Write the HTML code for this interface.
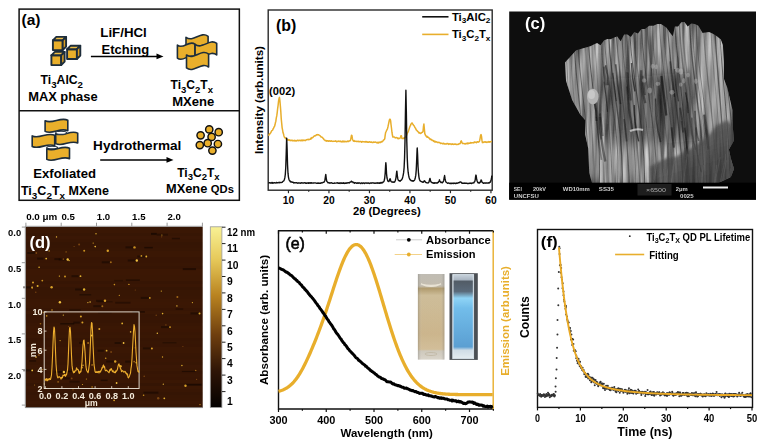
<!DOCTYPE html>
<html><head><meta charset="utf-8"><style>
html,body{margin:0;padding:0;background:#fff;}
svg{display:block;font-family:"Liberation Sans", sans-serif;}
</style></head><body>
<svg width="765" height="445" viewBox="0 0 765 445">
<rect x="19.1" y="9.1" width="220.25" height="191.2" fill="none" stroke="#111" stroke-width="1.5"/>
<line x1="19.1" y1="110.8" x2="239.35" y2="110.8" stroke="#111" stroke-width="1.5"/>
<text x="21.5" y="25.3" font-size="15.5" font-weight="bold" fill="#000" text-anchor="start" textLength="19" lengthAdjust="spacingAndGlyphs" >(a)</text>
<path d="M52.9,40.3 h9.8 v9.8 h-9.8 z" fill="#E9AF2B" stroke="#1d2d3b" stroke-width="1.9" stroke-linejoin="round"/><path d="M52.9,40.3 L56.3,36.9 h9.8 L62.7,40.3 z" fill="#EDBD45" stroke="#1d2d3b" stroke-width="1.9" stroke-linejoin="round"/><path d="M62.7,40.3 L66.10000000000001,36.9 v9.8 L62.7,50.099999999999994 z" fill="#D99D22" stroke="#1d2d3b" stroke-width="1.9" stroke-linejoin="round"/>
<path d="M67.1,49.199999999999996 h9.8 v9.8 h-9.8 z" fill="#E9AF2B" stroke="#1d2d3b" stroke-width="1.9" stroke-linejoin="round"/><path d="M67.1,49.199999999999996 L70.5,45.8 h9.8 L76.89999999999999,49.199999999999996 z" fill="#EDBD45" stroke="#1d2d3b" stroke-width="1.9" stroke-linejoin="round"/><path d="M76.89999999999999,49.199999999999996 L80.3,45.8 v9.8 L76.89999999999999,59.0 z" fill="#D99D22" stroke="#1d2d3b" stroke-width="1.9" stroke-linejoin="round"/>
<path d="M51.4,55.3 h9.8 v9.8 h-9.8 z" fill="#E9AF2B" stroke="#1d2d3b" stroke-width="1.9" stroke-linejoin="round"/><path d="M51.4,55.3 L54.8,51.9 h9.8 L61.2,55.3 z" fill="#EDBD45" stroke="#1d2d3b" stroke-width="1.9" stroke-linejoin="round"/><path d="M61.2,55.3 L64.60000000000001,51.9 v9.8 L61.2,65.1 z" fill="#D99D22" stroke="#1d2d3b" stroke-width="1.9" stroke-linejoin="round"/>
<path d="M186.00,37.27 C193.29,42.97 200.81,30.62 208.10,36.32 L208.10,46.73 C200.81,41.03 193.29,53.38 186.00,47.68 Z" fill="#E9AF2B" stroke="#1d2d3b" stroke-width="1.6" stroke-linejoin="round"/>
<path d="M177.40,45.11 C183.21,50.21 189.19,39.16 195.00,44.26 L195.00,57.20 C189.19,52.10 183.21,63.15 177.40,58.05 Z" fill="#E9AF2B" stroke="#1d2d3b" stroke-width="1.6" stroke-linejoin="round"/>
<path d="M195.10,44.37 C202.23,50.07 209.57,37.72 216.70,43.42 L216.70,54.94 C209.57,49.23 202.23,61.59 195.10,55.88 Z" fill="#E9AF2B" stroke="#1d2d3b" stroke-width="1.6" stroke-linejoin="round"/>
<path d="M186.50,54.97 C193.79,60.67 201.31,48.32 208.60,54.02 L208.60,67.04 C201.31,61.34 193.79,73.69 186.50,67.99 Z" fill="#E9AF2B" stroke="#1d2d3b" stroke-width="1.6" stroke-linejoin="round"/>
<line x1="90.9" y1="56.4" x2="158" y2="56.4" stroke="#000" stroke-width="1.5"/>
<path d="M156.5,53.6 L163.5,56.4 L156.5,59.3 Z" fill="#000"/>
<text x="100.3" y="36.8" font-size="12.2" font-weight="bold" fill="#000" text-anchor="start" textLength="46.5" lengthAdjust="spacingAndGlyphs" >LiF/HCl</text>
<text x="101.5" y="53.8" font-size="12.2" font-weight="bold" fill="#000" text-anchor="start" textLength="47.6" lengthAdjust="spacingAndGlyphs" >Etching</text>
<text x="40.6" y="84.4" font-size="12" font-weight="bold" fill="#000" text-anchor="start" textLength="42.4" lengthAdjust="spacingAndGlyphs" >Ti<tspan font-size="9.5" dy="3.6">3</tspan><tspan dy="-3.6">AlC</tspan><tspan font-size="9.5" dy="3.6">2</tspan></text>
<text x="28.2" y="100.9" font-size="12" font-weight="bold" fill="#000" text-anchor="start" textLength="69.4" lengthAdjust="spacingAndGlyphs" >MAX phase</text>
<text x="170.5" y="89" font-size="12" font-weight="bold" fill="#000" text-anchor="start" textLength="42.5" lengthAdjust="spacingAndGlyphs" >Ti<tspan font-size="9.5" dy="3.6">3</tspan><tspan dy="-3.6">C</tspan><tspan font-size="9.5" dy="3.6">2</tspan><tspan dy="-3.6">T</tspan><tspan font-size="9.5" dy="3.6">x</tspan></text>
<text x="172.2" y="106" font-size="12" font-weight="bold" fill="#000" text-anchor="start" textLength="42.1" lengthAdjust="spacingAndGlyphs" >MXene</text>
<path d="M45.10,120.81 C52.59,124.53 60.31,116.47 67.80,120.19 L67.80,130.73 C60.31,127.01 52.59,135.07 45.10,131.35 Z" fill="#E9AF2B" stroke="#1d2d3b" stroke-width="1.6" stroke-linejoin="round"/>
<path d="M55.70,133.71 C62.96,137.43 70.44,129.37 77.70,133.09 L77.70,143.03 C70.44,139.31 62.96,147.37 55.70,143.65 Z" fill="#E9AF2B" stroke="#1d2d3b" stroke-width="1.6" stroke-linejoin="round"/>
<path d="M32.20,135.91 C39.62,139.63 47.28,131.57 54.70,135.29 L54.70,145.83 C47.28,142.11 39.62,150.17 32.20,146.45 Z" fill="#E9AF2B" stroke="#1d2d3b" stroke-width="1.6" stroke-linejoin="round"/>
<path d="M46.80,148.81 C54.29,152.53 62.01,144.47 69.50,148.19 L69.50,158.73 C62.01,155.01 54.29,163.07 46.80,159.35 Z" fill="#E9AF2B" stroke="#1d2d3b" stroke-width="1.6" stroke-linejoin="round"/>
<ellipse cx="61.1" cy="132.8" rx="5.4" ry="1.5" fill="#fff" stroke="#1d2d3b" stroke-width="1.1"/>
<ellipse cx="52.1" cy="147.6" rx="5.4" ry="1.3" fill="#fff" stroke="#1d2d3b" stroke-width="1.1"/>
<text x="33.3" y="177.6" font-size="12" font-weight="bold" fill="#000" text-anchor="start" textLength="62.7" lengthAdjust="spacingAndGlyphs" >Exfoliated</text>
<text x="20.9" y="195.3" font-size="12" font-weight="bold" fill="#000" text-anchor="start" textLength="88.1" lengthAdjust="spacingAndGlyphs" >Ti<tspan font-size="9.5" dy="3.6">3</tspan><tspan dy="-3.6">C</tspan><tspan font-size="9.5" dy="3.6">2</tspan><tspan dy="-3.6">T</tspan><tspan font-size="9.5" dy="3.6">x</tspan><tspan dy="-3.6"> MXene</tspan></text>
<line x1="100.2" y1="159.9" x2="168" y2="159.9" stroke="#000" stroke-width="1.5"/>
<path d="M166.5,157.1 L173.5,159.9 L166.5,162.7 Z" fill="#000"/>
<text x="93.1" y="150.3" font-size="12" font-weight="bold" fill="#000" text-anchor="start" textLength="88.2" lengthAdjust="spacingAndGlyphs" >Hydrothermal</text>
<text x="177.2" y="176.7" font-size="12" font-weight="bold" fill="#000" text-anchor="start" textLength="42.5" lengthAdjust="spacingAndGlyphs" >Ti<tspan font-size="9.5" dy="3.6">3</tspan><tspan dy="-3.6">C</tspan><tspan font-size="9.5" dy="3.6">2</tspan><tspan dy="-3.6">T</tspan><tspan font-size="9.5" dy="3.6">x</tspan></text>
<text x="166" y="192.9" font-size="12" font-weight="bold" fill="#000" text-anchor="start" textLength="67.9" lengthAdjust="spacingAndGlyphs" >MXene <tspan font-size="10.5">QDs</tspan></text>
<circle cx="209.25" cy="129.4" r="3.65" fill="#E9AF2B" stroke="#111" stroke-width="1.45"/>
<circle cx="218.7" cy="132.2" r="3.65" fill="#E9AF2B" stroke="#111" stroke-width="1.45"/>
<circle cx="200.6" cy="135.3" r="3.65" fill="#E9AF2B" stroke="#111" stroke-width="1.45"/>
<circle cx="211.6" cy="136.9" r="3.65" fill="#E9AF2B" stroke="#111" stroke-width="1.45"/>
<circle cx="207.7" cy="143.2" r="3.65" fill="#E9AF2B" stroke="#111" stroke-width="1.45"/>
<circle cx="199.8" cy="145.1" r="3.65" fill="#E9AF2B" stroke="#111" stroke-width="1.45"/>
<circle cx="217.9" cy="144" r="3.65" fill="#E9AF2B" stroke="#111" stroke-width="1.45"/>
<circle cx="212.4" cy="150.6" r="3.65" fill="#E9AF2B" stroke="#111" stroke-width="1.45"/>
<rect x="268.2" y="10" width="224" height="180.2" fill="none" stroke="#2a2a2a" stroke-width="1.4"/>
<line x1="288.45" y1="190" x2="288.45" y2="193.2" stroke="#2a2a2a" stroke-width="1.2"/>
<line x1="308.70" y1="190" x2="308.70" y2="191.8" stroke="#2a2a2a" stroke-width="1.2"/>
<line x1="328.95" y1="190" x2="328.95" y2="193.2" stroke="#2a2a2a" stroke-width="1.2"/>
<line x1="349.20" y1="190" x2="349.20" y2="191.8" stroke="#2a2a2a" stroke-width="1.2"/>
<line x1="369.45" y1="190" x2="369.45" y2="193.2" stroke="#2a2a2a" stroke-width="1.2"/>
<line x1="389.70" y1="190" x2="389.70" y2="191.8" stroke="#2a2a2a" stroke-width="1.2"/>
<line x1="409.95" y1="190" x2="409.95" y2="193.2" stroke="#2a2a2a" stroke-width="1.2"/>
<line x1="430.20" y1="190" x2="430.20" y2="191.8" stroke="#2a2a2a" stroke-width="1.2"/>
<line x1="450.45" y1="190" x2="450.45" y2="193.2" stroke="#2a2a2a" stroke-width="1.2"/>
<line x1="470.70" y1="190" x2="470.70" y2="191.8" stroke="#2a2a2a" stroke-width="1.2"/>
<line x1="490.95" y1="190" x2="490.95" y2="193.2" stroke="#2a2a2a" stroke-width="1.2"/>
<text x="288.45" y="204.4" font-size="10.3" font-weight="bold" fill="#000" text-anchor="middle" >10</text>
<text x="328.95" y="204.4" font-size="10.3" font-weight="bold" fill="#000" text-anchor="middle" >20</text>
<text x="369.45" y="204.4" font-size="10.3" font-weight="bold" fill="#000" text-anchor="middle" >30</text>
<text x="409.95" y="204.4" font-size="10.3" font-weight="bold" fill="#000" text-anchor="middle" >40</text>
<text x="450.45" y="204.4" font-size="10.3" font-weight="bold" fill="#000" text-anchor="middle" >50</text>
<text x="490.95" y="204.4" font-size="10.3" font-weight="bold" fill="#000" text-anchor="middle" >60</text>
<text x="353" y="214.7" font-size="11" font-weight="bold" fill="#000" text-anchor="start" textLength="67.7" lengthAdjust="spacingAndGlyphs" >2θ (Degrees)</text>
<text x="0" y="0" font-size="10.5" font-weight="bold" fill="#000" text-anchor="start" textLength="108" lengthAdjust="spacingAndGlyphs" transform="translate(262.9,154) rotate(-90)">Intensity (arb.units)</text>
<text x="275.9" y="31.3" font-size="16" font-weight="bold" fill="#000" text-anchor="start" textLength="20.3" lengthAdjust="spacingAndGlyphs" >(b)</text>
<text x="269.1" y="95.2" font-size="11" font-weight="bold" fill="#000" text-anchor="start" textLength="26" lengthAdjust="spacingAndGlyphs" >(002)</text>
<line x1="422.2" y1="16.8" x2="448.5" y2="16.8" stroke="#111" stroke-width="1.6"/>
<line x1="422.2" y1="34.4" x2="448.5" y2="34.4" stroke="#E8AE2C" stroke-width="1.6"/>
<text x="451.9" y="20.9" font-size="11" font-weight="bold" fill="#000" text-anchor="start" textLength="38.5" lengthAdjust="spacingAndGlyphs" >Ti<tspan font-size="8" dy="2.5">3</tspan><tspan dy="-2.5">AlC</tspan><tspan font-size="8" dy="2.5">2</tspan></text>
<text x="451.9" y="38.4" font-size="11" font-weight="bold" fill="#000" text-anchor="start" textLength="38.5" lengthAdjust="spacingAndGlyphs" >Ti<tspan font-size="8" dy="2.5">3</tspan><tspan dy="-2.5">C</tspan><tspan font-size="8" dy="2.5">2</tspan><tspan dy="-2.5">T</tspan><tspan font-size="8" dy="2.5">x</tspan></text>
<path d="M268.20,135.32 L268.65,135.20 L269.10,134.92 L269.55,133.84 L270.00,133.75 L270.45,133.14 L270.90,132.52 L271.35,131.40 L271.80,130.69 L272.25,130.35 L272.70,129.98 L273.15,128.78 L273.60,128.15 L274.05,127.01 L274.50,126.38 L274.95,125.10 L275.40,122.80 L275.85,121.18 L276.30,117.93 L276.75,115.91 L277.20,112.63 L277.65,108.54 L278.10,105.35 L278.55,101.16 L279.00,98.51 L279.45,97.38 L279.90,100.67 L280.35,105.93 L280.80,111.44 L281.25,118.81 L281.70,123.44 L282.15,127.83 L282.60,130.17 L283.05,132.77 L283.50,133.84 L283.95,135.94 L284.40,137.01 L284.85,137.81 L285.30,137.61 L285.75,138.44 L286.20,138.55 L286.65,139.48 L287.10,139.30 L287.55,139.98 L288.00,139.58 L288.45,140.06 L288.90,140.26 L289.35,139.80 L289.80,140.18 L290.25,140.63 L290.70,140.32 L291.15,140.24 L291.60,140.21 L292.05,140.73 L292.50,140.24 L292.95,140.65 L293.40,140.63 L293.85,140.64 L294.30,140.27 L294.75,140.74 L295.20,140.97 L295.65,140.43 L296.10,140.44 L296.55,140.95 L297.00,140.65 L297.45,140.36 L297.90,140.12 L298.35,140.77 L298.80,140.40 L299.25,140.49 L299.70,140.30 L300.15,140.61 L300.60,140.67 L301.05,140.28 L301.50,140.04 L301.95,140.84 L302.40,140.75 L302.85,139.93 L303.30,140.39 L303.75,140.47 L304.20,140.19 L304.65,140.45 L305.10,140.63 L305.55,140.26 L306.00,140.03 L306.45,139.78 L306.90,139.74 L307.35,139.54 L307.80,139.38 L308.25,139.34 L308.70,139.76 L309.15,139.34 L309.60,139.42 L310.05,139.36 L310.50,139.06 L310.95,138.13 L311.40,138.63 L311.85,137.57 L312.30,137.86 L312.75,137.60 L313.20,137.13 L313.65,136.61 L314.10,136.06 L314.55,135.81 L315.00,136.04 L315.45,135.40 L315.90,135.40 L316.35,134.92 L316.80,134.63 L317.25,134.60 L317.70,134.91 L318.15,134.71 L318.60,134.75 L319.05,135.06 L319.50,135.42 L319.95,135.72 L320.40,136.01 L320.85,136.82 L321.30,136.95 L321.75,136.88 L322.20,137.41 L322.65,137.77 L323.10,138.43 L323.55,138.61 L324.00,139.71 L324.45,139.96 L324.90,140.16 L325.35,140.83 L325.80,140.45 L326.25,140.73 L326.70,141.11 L327.15,140.82 L327.60,140.92 L328.05,140.75 L328.50,141.36 L328.95,141.18 L329.40,140.81 L329.85,140.90 L330.30,141.14 L330.75,141.10 L331.20,141.13 L331.65,140.86 L332.10,141.23 L332.55,141.37 L333.00,141.44 L333.45,141.17 L333.90,141.19 L334.35,141.25 L334.80,141.30 L335.25,141.26 L335.70,140.85 L336.15,141.09 L336.60,141.76 L337.05,141.62 L337.50,141.31 L337.95,141.58 L338.40,141.10 L338.85,141.16 L339.30,141.40 L339.75,141.57 L340.20,140.98 L340.65,141.39 L341.10,141.79 L341.55,141.53 L342.00,141.88 L342.45,141.09 L342.90,141.82 L343.35,141.77 L343.80,141.04 L344.25,141.51 L344.70,141.71 L345.15,141.24 L345.60,141.62 L346.05,141.81 L346.50,141.76 L346.95,141.43 L347.40,141.10 L347.85,141.54 L348.30,141.20 L348.75,141.43 L349.20,141.01 L349.65,140.84 L350.10,140.70 L350.55,140.14 L351.00,137.85 L351.45,135.30 L351.90,135.40 L352.35,138.41 L352.80,140.00 L353.25,140.79 L353.70,141.13 L354.15,140.64 L354.60,141.44 L355.05,141.16 L355.50,141.28 L355.95,141.35 L356.40,141.57 L356.85,141.33 L357.30,141.59 L357.75,141.42 L358.20,141.30 L358.65,141.44 L359.10,141.85 L359.55,141.53 L360.00,141.45 L360.45,141.61 L360.90,141.49 L361.35,142.20 L361.80,142.03 L362.25,141.47 L362.70,141.61 L363.15,141.75 L363.60,141.84 L364.05,141.72 L364.50,141.85 L364.95,142.08 L365.40,141.54 L365.85,141.91 L366.30,141.57 L366.75,141.91 L367.20,141.73 L367.65,142.18 L368.10,142.26 L368.55,142.35 L369.00,141.87 L369.45,142.08 L369.90,141.70 L370.35,142.21 L370.80,142.30 L371.25,142.02 L371.70,141.96 L372.15,142.40 L372.60,142.43 L373.05,142.52 L373.50,142.11 L373.95,142.11 L374.40,142.16 L374.85,142.15 L375.30,142.03 L375.75,142.17 L376.20,142.53 L376.65,142.50 L377.10,142.93 L377.55,142.49 L378.00,142.30 L378.45,142.97 L378.90,142.15 L379.35,142.30 L379.80,142.57 L380.25,142.04 L380.70,142.46 L381.15,142.07 L381.60,141.48 L382.05,141.76 L382.50,141.58 L382.95,140.94 L383.40,140.23 L383.85,139.67 L384.30,139.61 L384.75,138.70 L385.20,135.14 L385.65,132.41 L386.10,131.58 L386.55,130.53 L387.00,129.74 L387.45,128.90 L387.90,127.01 L388.35,124.86 L388.80,122.76 L389.25,120.54 L389.70,119.26 L390.15,119.19 L390.60,120.66 L391.05,124.75 L391.50,128.28 L391.95,132.22 L392.40,135.03 L392.85,136.98 L393.30,137.03 L393.75,137.11 L394.20,137.07 L394.65,137.18 L395.10,137.78 L395.55,137.90 L396.00,137.83 L396.45,137.47 L396.90,137.60 L397.35,137.89 L397.80,138.50 L398.25,138.69 L398.70,138.16 L399.15,138.59 L399.60,138.39 L400.05,138.15 L400.50,137.23 L400.95,135.83 L401.40,135.71 L401.85,138.32 L402.30,138.58 L402.75,138.48 L403.20,138.56 L403.65,137.94 L404.10,138.42 L404.55,138.09 L405.00,137.35 L405.45,137.10 L405.90,136.50 L406.35,135.95 L406.80,134.79 L407.25,133.27 L407.70,132.78 L408.15,131.67 L408.60,130.60 L409.05,129.12 L409.50,127.80 L409.95,126.39 L410.40,125.66 L410.85,124.18 L411.30,123.93 L411.75,123.02 L412.20,123.11 L412.65,124.04 L413.10,124.48 L413.55,125.27 L414.00,125.72 L414.45,126.47 L414.90,127.48 L415.35,127.93 L415.80,128.88 L416.25,129.90 L416.70,130.25 L417.15,130.87 L417.60,131.38 L418.05,131.70 L418.50,132.37 L418.95,132.93 L419.40,132.55 L419.85,133.19 L420.30,133.23 L420.75,133.51 L421.20,133.16 L421.65,132.51 L422.10,132.45 L422.55,132.22 L423.00,131.45 L423.45,126.74 L423.90,124.06 L424.35,128.74 L424.80,133.67 L425.25,134.63 L425.70,135.71 L426.15,136.00 L426.60,136.85 L427.05,136.31 L427.50,137.32 L427.95,136.99 L428.40,137.70 L428.85,137.72 L429.30,138.27 L429.75,138.82 L430.20,139.46 L430.65,138.95 L431.10,139.57 L431.55,139.60 L432.00,140.44 L432.45,140.16 L432.90,140.45 L433.35,141.22 L433.80,140.73 L434.25,141.67 L434.70,141.28 L435.15,142.09 L435.60,141.45 L436.05,141.60 L436.50,142.09 L436.95,142.08 L437.40,142.52 L437.85,142.34 L438.30,142.49 L438.75,142.33 L439.20,142.51 L439.65,142.54 L440.10,143.05 L440.55,143.51 L441.00,143.29 L441.45,143.18 L441.90,143.37 L442.35,143.70 L442.80,143.84 L443.25,143.19 L443.70,143.73 L444.15,143.47 L444.60,144.08 L445.05,143.94 L445.50,143.86 L445.95,143.97 L446.40,144.09 L446.85,143.51 L447.30,143.77 L447.75,143.55 L448.20,143.69 L448.65,144.42 L449.10,144.13 L449.55,143.83 L450.00,143.94 L450.45,144.08 L450.90,143.80 L451.35,144.48 L451.80,144.11 L452.25,143.84 L452.70,144.27 L453.15,144.19 L453.60,144.51 L454.05,144.07 L454.50,144.06 L454.95,144.30 L455.40,144.21 L455.85,143.96 L456.30,144.50 L456.75,144.60 L457.20,144.55 L457.65,144.36 L458.10,144.15 L458.55,144.39 L459.00,143.80 L459.45,143.63 L459.90,143.63 L460.35,143.15 L460.80,141.49 L461.25,140.85 L461.70,141.78 L462.15,142.98 L462.60,143.59 L463.05,143.56 L463.50,143.44 L463.95,143.46 L464.40,143.61 L464.85,143.98 L465.30,144.03 L465.75,143.58 L466.20,143.21 L466.65,143.61 L467.10,143.89 L467.55,142.97 L468.00,143.45 L468.45,143.70 L468.90,143.02 L469.35,143.18 L469.80,143.30 L470.25,143.09 L470.70,142.57 L471.15,143.05 L471.60,142.80 L472.05,142.80 L472.50,142.69 L472.95,142.84 L473.40,142.57 L473.85,142.85 L474.30,142.09 L474.75,141.98 L475.20,142.06 L475.65,142.36 L476.10,142.52 L476.55,142.66 L477.00,141.79 L477.45,141.73 L477.90,142.00 L478.35,142.17 L478.80,141.84 L479.25,141.62 L479.70,140.39 L480.15,138.08 L480.60,135.25 L481.05,134.54 L481.50,136.31 L481.95,140.21 L482.40,142.62 L482.85,142.38 L483.30,141.98 L483.75,142.40 L484.20,142.15 L484.65,141.83 L485.10,141.84 L485.55,142.18 L486.00,142.01 L486.45,141.95 L486.90,142.36 L487.35,141.93 L487.80,142.08 L488.25,142.12 L488.70,141.64 L489.15,142.33 L489.60,141.82 L490.05,141.69 L490.50,141.97 L490.95,141.66 L491.40,141.45 L491.85,141.47" fill="none" stroke="#E8AE2C" stroke-width="1.5" stroke-linejoin="round"/>
<path d="M268.20,182.61 L268.65,182.83 L269.10,182.80 L269.55,182.72 L270.00,182.69 L270.45,183.16 L270.90,182.97 L271.35,182.98 L271.80,182.56 L272.25,183.20 L272.70,182.57 L273.15,183.07 L273.60,182.99 L274.05,182.81 L274.50,182.75 L274.95,182.88 L275.40,182.90 L275.85,183.07 L276.30,182.51 L276.75,182.51 L277.20,182.87 L277.65,182.61 L278.10,182.79 L278.55,182.62 L279.00,182.34 L279.45,182.84 L279.90,182.35 L280.35,182.38 L280.80,182.59 L281.25,182.61 L281.70,182.44 L282.15,182.32 L282.60,181.67 L283.05,181.30 L283.50,181.02 L283.95,180.62 L284.40,179.46 L284.85,177.69 L285.30,174.50 L285.75,167.52 L286.20,153.96 L286.65,138.31 L286.71,138.30 L287.10,148.90 L287.55,165.02 L288.00,173.17 L288.45,177.10 L288.90,179.20 L289.35,180.35 L289.80,180.66 L290.25,181.73 L290.70,181.42 L291.15,182.15 L291.60,182.03 L292.05,182.03 L292.50,182.32 L292.95,182.24 L293.40,182.38 L293.85,182.96 L294.30,182.90 L294.75,182.63 L295.20,182.76 L295.65,182.86 L296.10,182.69 L296.55,182.58 L297.00,182.82 L297.45,183.12 L297.90,183.21 L298.35,182.98 L298.80,183.13 L299.25,182.87 L299.70,183.14 L300.15,183.16 L300.60,183.24 L301.05,182.75 L301.50,182.99 L301.95,182.68 L302.40,183.04 L302.85,182.97 L303.30,183.06 L303.75,183.02 L304.20,182.89 L304.65,182.75 L305.10,182.88 L305.55,183.21 L306.00,182.86 L306.45,183.34 L306.90,183.26 L307.35,182.86 L307.80,182.99 L308.25,183.24 L308.70,182.69 L309.15,183.22 L309.60,182.97 L310.05,183.16 L310.50,182.70 L310.95,183.15 L311.40,182.73 L311.85,182.89 L312.30,183.12 L312.75,183.14 L313.20,182.95 L313.65,182.88 L314.10,182.95 L314.55,182.91 L315.00,182.86 L315.45,182.87 L315.90,183.04 L316.35,183.22 L316.80,183.27 L317.25,182.96 L317.70,183.35 L318.15,182.92 L318.60,183.26 L319.05,183.24 L319.50,183.19 L319.95,183.28 L320.40,183.06 L320.85,183.23 L321.30,182.78 L321.75,182.91 L322.20,182.90 L322.65,182.80 L323.10,182.36 L323.55,182.31 L324.00,182.24 L324.45,181.41 L324.90,180.19 L325.35,176.98 L325.71,174.64 L325.80,174.53 L326.25,178.32 L326.70,181.08 L327.15,181.70 L327.60,182.03 L328.05,182.76 L328.50,182.64 L328.95,182.62 L329.40,182.90 L329.85,183.23 L330.30,183.01 L330.75,182.79 L331.20,182.67 L331.65,182.98 L332.10,182.88 L332.55,183.38 L333.00,183.33 L333.45,183.40 L333.90,183.37 L334.35,182.93 L334.80,183.18 L335.25,183.13 L335.70,183.12 L336.15,183.13 L336.60,182.90 L337.05,182.86 L337.50,182.79 L337.95,183.24 L338.40,182.87 L338.85,183.36 L339.30,183.21 L339.75,182.97 L340.20,183.39 L340.65,182.82 L341.10,182.90 L341.55,183.32 L342.00,183.02 L342.45,183.39 L342.90,183.10 L343.35,182.75 L343.80,183.40 L344.25,183.44 L344.70,183.06 L345.15,183.23 L345.60,183.20 L346.05,182.79 L346.50,183.23 L346.95,183.03 L347.40,183.15 L347.85,182.64 L348.30,182.88 L348.75,182.67 L349.20,183.09 L349.65,182.33 L350.10,182.13 L350.55,182.03 L351.00,181.96 L351.45,181.18 L351.63,181.49 L351.90,181.64 L352.35,181.89 L352.80,182.15 L353.25,182.68 L353.70,182.43 L354.15,182.66 L354.60,183.16 L355.05,182.76 L355.50,182.83 L355.95,182.78 L356.40,183.08 L356.85,183.37 L357.30,182.84 L357.75,183.11 L358.20,183.38 L358.65,182.82 L359.10,183.11 L359.55,182.98 L360.00,183.16 L360.45,183.44 L360.90,183.44 L361.35,183.02 L361.80,182.93 L362.25,183.15 L362.70,183.45 L363.15,182.96 L363.60,182.98 L364.05,183.07 L364.50,183.45 L364.95,183.00 L365.40,182.93 L365.85,183.08 L366.30,183.18 L366.75,182.95 L367.20,183.34 L367.65,182.93 L368.10,183.16 L368.55,183.04 L369.00,183.41 L369.45,183.47 L369.90,183.11 L370.35,183.06 L370.80,183.06 L371.25,183.22 L371.70,182.89 L372.15,182.80 L372.60,182.95 L373.05,183.16 L373.50,183.00 L373.95,182.87 L374.40,183.13 L374.85,183.41 L375.30,183.39 L375.75,182.90 L376.20,182.85 L376.65,183.18 L377.10,183.29 L377.55,182.76 L378.00,183.02 L378.45,182.86 L378.90,183.29 L379.35,183.25 L379.80,182.72 L380.25,183.18 L380.70,182.56 L381.15,182.57 L381.60,182.96 L382.05,182.43 L382.50,182.69 L382.95,182.19 L383.40,181.86 L383.85,181.46 L384.30,180.25 L384.75,177.78 L385.20,173.03 L385.65,164.67 L385.85,162.80 L386.10,165.39 L386.55,173.82 L387.00,178.01 L387.45,179.69 L387.90,181.13 L388.35,181.42 L388.80,181.64 L389.25,180.97 L389.70,179.50 L390.11,178.67 L390.15,178.63 L390.60,180.16 L391.05,181.44 L391.50,181.81 L391.95,181.98 L392.40,181.90 L392.85,182.20 L393.30,182.21 L393.75,181.88 L394.20,182.24 L394.65,181.93 L395.10,180.98 L395.55,179.82 L396.00,177.58 L396.45,173.51 L396.79,171.11 L396.90,171.20 L397.35,175.98 L397.80,178.73 L398.25,180.14 L398.70,180.64 L399.15,180.72 L399.60,180.75 L400.05,181.27 L400.50,180.55 L400.95,180.20 L401.40,180.15 L401.85,179.30 L402.30,178.58 L402.75,176.95 L403.20,175.08 L403.65,172.39 L404.10,167.74 L404.55,158.24 L405.00,141.22 L405.45,112.21 L405.90,90.26 L406.35,112.02 L406.80,141.61 L407.25,158.32 L407.70,167.19 L408.15,172.23 L408.60,175.17 L409.05,177.26 L409.50,178.64 L409.95,179.54 L410.40,180.05 L410.85,180.15 L411.30,180.82 L411.75,180.70 L412.20,180.74 L412.65,180.98 L413.10,181.33 L413.55,180.76 L414.00,180.66 L414.45,180.23 L414.90,179.28 L415.35,177.49 L415.80,175.13 L416.25,169.87 L416.70,159.50 L417.15,148.52 L417.24,148.01 L417.60,154.68 L418.05,166.81 L418.50,173.20 L418.95,177.05 L419.40,179.26 L419.85,180.44 L420.30,181.09 L420.75,181.14 L421.20,181.59 L421.65,181.60 L422.10,181.96 L422.55,182.27 L423.00,181.89 L423.45,182.20 L423.90,181.25 L424.35,180.81 L424.53,180.77 L424.80,180.98 L425.25,181.83 L425.70,182.18 L426.15,182.65 L426.60,182.63 L427.05,182.95 L427.50,182.87 L427.95,182.85 L428.40,182.72 L428.85,182.14 L429.30,181.04 L429.75,178.98 L430.00,178.39 L430.20,179.03 L430.65,181.19 L431.10,182.04 L431.55,182.21 L432.00,182.60 L432.45,182.90 L432.90,182.72 L433.35,183.27 L433.80,182.89 L434.25,182.77 L434.70,183.34 L435.15,183.02 L435.60,182.84 L436.05,182.73 L436.50,183.00 L436.95,183.22 L437.40,182.68 L437.85,182.52 L438.30,182.52 L438.75,181.70 L439.20,180.76 L439.51,179.81 L439.65,180.49 L440.10,181.51 L440.55,181.89 L441.00,182.59 L441.45,182.29 L441.90,182.41 L442.35,182.80 L442.80,182.07 L443.25,181.66 L443.70,180.44 L444.15,177.77 L444.58,176.04 L444.60,175.48 L445.05,178.69 L445.50,180.69 L445.95,182.04 L446.40,182.35 L446.85,182.60 L447.30,182.98 L447.75,183.32 L448.20,183.19 L448.65,182.94 L449.10,183.26 L449.55,183.33 L450.00,183.57 L450.45,183.17 L450.90,183.54 L451.35,183.24 L451.80,183.62 L452.25,183.32 L452.70,183.13 L453.15,183.44 L453.60,183.59 L454.05,183.04 L454.50,183.20 L454.95,183.26 L455.40,183.57 L455.85,183.54 L456.30,183.06 L456.75,183.31 L457.20,183.27 L457.65,183.14 L458.10,182.68 L458.55,182.79 L459.00,182.89 L459.45,182.12 L459.90,182.27 L460.17,182.08 L460.35,181.85 L460.80,182.02 L461.25,182.35 L461.70,183.07 L462.15,183.07 L462.60,183.32 L463.05,183.11 L463.50,183.32 L463.95,183.13 L464.40,183.04 L464.85,183.27 L465.30,183.10 L465.75,183.30 L466.20,183.22 L466.65,183.10 L467.10,183.20 L467.55,183.61 L468.00,183.60 L468.45,183.59 L468.90,183.13 L469.35,183.29 L469.80,183.43 L470.25,183.06 L470.70,183.20 L471.15,183.43 L471.60,183.53 L472.05,182.92 L472.50,183.10 L472.95,183.00 L473.40,182.80 L473.85,182.87 L474.30,181.83 L474.75,181.57 L475.20,179.84 L475.65,176.29 L475.96,175.08 L476.10,175.40 L476.55,178.39 L477.00,180.50 L477.45,181.66 L477.90,182.68 L478.35,182.54 L478.80,182.96 L479.25,182.49 L479.70,182.89 L480.15,182.21 L480.60,181.68 L481.05,179.91 L481.23,179.95 L481.50,180.51 L481.95,182.19 L482.40,182.37 L482.85,182.83 L483.30,183.32 L483.75,183.22 L484.20,182.90 L484.65,182.93 L485.10,183.28 L485.55,182.96 L486.00,182.91 L486.45,183.16 L486.90,183.02 L487.35,183.11 L487.80,183.06 L488.25,183.11 L488.70,182.65 L489.15,183.04 L489.60,182.22 L490.05,182.39 L490.50,181.57 L490.95,180.67 L491.40,179.02 L491.85,175.61" fill="none" stroke="#111" stroke-width="1.4" stroke-linejoin="round"/>
<rect x="509.2" y="11.5" width="246.8" height="188.2" fill="#0e0e0e"/>
<defs><clipPath id="semclip"><polygon points="565,62.5 576.2,50.3 579.7,49.3 583.2,48.3 586.8,47.3 590.3,46.3 593.7,44.6 597.1,42.9 600.5,45.2 603.9,40.5 607.2,39.1 610.6,39.2 614.0,37.4 617.3,36.6 620.7,41.2 624.1,34.6 627.4,34.5 630.8,37.1 634.3,32.0 637.9,33.5 641.5,29.1 645.0,28.9 649.2,25.8 653.5,25.7 657.2,24.1 661.0,23.9 666.3,27.5 669.5,32.0 672.8,36.3 674.9,26.5 678.1,26.5 681.3,22.3 684.5,21.9 687.7,26.5 691.3,23.6 694.8,24.0 698.4,25.7 702.6,32.9 709.0,31.9 712.9,33.7 716.9,36.2 720.8,39.6 722.9,44.9 724,62 724,79 727.2,87.6 732.5,110 732.9,128.3 734,140.5 728.9,149.6 730.9,158.7 734,168.8 730.9,176.9 724.8,179.9 718,183 592,183 589.2,172.8 588.2,148.5 585.2,134.4 585.2,120.2 580.1,114.2 572.1,100 566,80.7"/></clipPath><filter id="semtex" x="500" y="10" width="260" height="190" filterUnits="userSpaceOnUse" color-interpolation-filters="sRGB"><feTurbulence type="fractalNoise" baseFrequency="0.2 0.014" numOctaves="3" seed="4" result="n"/><feColorMatrix in="n" type="matrix" values="0.95 0 0 0 0.04  0.95 0 0 0 0.04  0.95 0 0 0 0.04  0 0 0 0 1" result="g"/><feGaussianBlur in="g" stdDeviation="0.4" result="gb"/><feComposite in="gb" in2="SourceGraphic" operator="in"/></filter><filter id="semblur" x="-5%" y="-5%" width="110%" height="110%"><feGaussianBlur stdDeviation="0.6"/></filter><filter id="undblur" x="-10%" y="-10%" width="120%" height="120%"><feGaussianBlur stdDeviation="1.6"/></filter><filter id="semsoft" x="-30%" y="-30%" width="160%" height="160%"><feGaussianBlur stdDeviation="5"/></filter><linearGradient id="undg" x1="0" y1="0" x2="0.4" y2="1"><stop offset="0" stop-color="#585858"/><stop offset="1" stop-color="#383838"/></linearGradient></defs>
<g filter="url(#semblur)"><polygon points="565,62.5 576.2,50.3 579.7,49.3 583.2,48.3 586.8,47.3 590.3,46.3 593.7,44.6 597.1,42.9 600.5,45.2 603.9,40.5 607.2,39.1 610.6,39.2 614.0,37.4 617.3,36.6 620.7,41.2 624.1,34.6 627.4,34.5 630.8,37.1 634.3,32.0 637.9,33.5 641.5,29.1 645.0,28.9 649.2,25.8 653.5,25.7 657.2,24.1 661.0,23.9 666.3,27.5 669.5,32.0 672.8,36.3 674.9,26.5 678.1,26.5 681.3,22.3 684.5,21.9 687.7,26.5 691.3,23.6 694.8,24.0 698.4,25.7 702.6,32.9 709.0,31.9 712.9,33.7 716.9,36.2 720.8,39.6 722.9,44.9 724,62 724,79 727.2,87.6 732.5,110 732.9,128.3 734,140.5 728.9,149.6 730.9,158.7 734,168.8 730.9,176.9 724.8,179.9 718,183 592,183 589.2,172.8 588.2,148.5 585.2,134.4 585.2,120.2 580.1,114.2 572.1,100 566,80.7" fill="#888" filter="url(#semtex)"/><g clip-path="url(#semclip)"><g filter="url(#semsoft)"><polygon points="560,60 588,46 598,60 594,183 585,183 570,100" fill="#c0c0c0" opacity="0.35"/><polygon points="700,26 724,42 728,90 734,125 708,130 696,60" fill="#c8c8c8" opacity="0.45"/><polygon points="592,142 655,135 660,178 592,180" fill="#c0c0c0" opacity="0.35"/><polygon points="602,80 692,72 700,140 612,148" fill="#202020" opacity="0.35"/></g><path d="M560.0,15 C561.5,70 564.5,120 566.0,185" stroke="#222" stroke-opacity="0.47" stroke-width="0.75" fill="none"/><path d="M564.9,15 C567.3,70 569.4,120 571.7,185" stroke="#222" stroke-opacity="0.53" stroke-width="0.79" fill="none"/><path d="M570.0,15 C567.9,70 579.7,120 577.6,185" stroke="#222" stroke-opacity="0.25" stroke-width="1.05" fill="none"/><path d="M574.5,15 C571.0,70 586.3,120 582.8,185" stroke="#222" stroke-opacity="0.53" stroke-width="1.13" fill="none"/><path d="M578.4,15 C574.7,70 591.1,120 587.4,185" stroke="#222" stroke-opacity="0.60" stroke-width="0.81" fill="none"/><path d="M584.3,15 C585.3,70 593.4,120 594.3,185" stroke="#222" stroke-opacity="0.26" stroke-width="1.39" fill="none"/><path d="M588.6,15 C585.6,70 602.3,120 599.2,185" stroke="#222" stroke-opacity="0.58" stroke-width="1.05" fill="none"/><path d="M593.1,15 C595.7,70 601.8,120 604.4,185" stroke="#222" stroke-opacity="0.29" stroke-width="0.74" fill="none"/><path d="M599.8,15 C600.3,70 611.6,120 612.0,185" stroke="#222" stroke-opacity="0.37" stroke-width="1.01" fill="none"/><path d="M604.8,15 C601.1,70 621.3,120 617.6,185" stroke="#222" stroke-opacity="0.55" stroke-width="0.77" fill="none"/><path d="M608.7,15 C606.4,70 624.3,120 622.0,185" stroke="#222" stroke-opacity="0.59" stroke-width="1.30" fill="none"/><path d="M615.3,15 C617.4,70 627.2,120 629.3,185" stroke="#222" stroke-opacity="0.45" stroke-width="1.28" fill="none"/><path d="M621.2,15 C621.0,70 635.9,120 635.7,185" stroke="#222" stroke-opacity="0.54" stroke-width="0.71" fill="none"/><path d="M625.0,15 C628.1,70 636.7,120 639.8,185" stroke="#222" stroke-opacity="0.39" stroke-width="1.43" fill="none"/><path d="M629.5,15 C628.6,70 645.5,120 644.6,185" stroke="#222" stroke-opacity="0.60" stroke-width="1.01" fill="none"/><path d="M634.0,15 C630.8,70 652.7,120 649.5,185" stroke="#222" stroke-opacity="0.50" stroke-width="0.62" fill="none"/><path d="M641.0,15 C640.9,70 656.8,120 656.7,185" stroke="#222" stroke-opacity="0.44" stroke-width="1.05" fill="none"/><path d="M647.0,15 C647.9,70 662.0,120 662.9,185" stroke="#222" stroke-opacity="0.44" stroke-width="0.80" fill="none"/><path d="M652.5,15 C649.8,70 671.1,120 668.5,185" stroke="#222" stroke-opacity="0.37" stroke-width="0.76" fill="none"/><path d="M659.2,15 C660.0,70 674.4,120 675.1,185" stroke="#222" stroke-opacity="0.36" stroke-width="0.91" fill="none"/><path d="M662.6,15 C665.1,70 676.0,120 678.5,185" stroke="#222" stroke-opacity="0.52" stroke-width="0.66" fill="none"/><path d="M667.1,15 C668.5,70 681.5,120 682.9,185" stroke="#222" stroke-opacity="0.56" stroke-width="1.22" fill="none"/><path d="M673.9,15 C677.8,70 685.5,120 689.4,185" stroke="#222" stroke-opacity="0.59" stroke-width="0.97" fill="none"/><path d="M679.3,15 C679.2,70 694.5,120 694.4,185" stroke="#222" stroke-opacity="0.38" stroke-width="1.39" fill="none"/><path d="M683.3,15 C680.6,70 700.8,120 698.1,185" stroke="#222" stroke-opacity="0.27" stroke-width="1.39" fill="none"/><path d="M689.5,15 C689.4,70 704.0,120 703.8,185" stroke="#222" stroke-opacity="0.54" stroke-width="1.30" fill="none"/><path d="M692.7,15 C691.0,70 708.4,120 706.7,185" stroke="#222" stroke-opacity="0.40" stroke-width="0.83" fill="none"/><path d="M696.4,15 C695.1,70 711.3,120 710.0,185" stroke="#222" stroke-opacity="0.56" stroke-width="0.66" fill="none"/><path d="M703.3,15 C703.2,70 716.3,120 716.2,185" stroke="#222" stroke-opacity="0.34" stroke-width="1.27" fill="none"/><path d="M710.2,15 C712.0,70 720.3,120 722.1,185" stroke="#222" stroke-opacity="0.26" stroke-width="1.07" fill="none"/><path d="M714.0,15 C716.4,70 723.1,120 725.4,185" stroke="#222" stroke-opacity="0.56" stroke-width="1.35" fill="none"/><path d="M719.4,15 C720.1,70 729.4,120 730.1,185" stroke="#222" stroke-opacity="0.55" stroke-width="0.98" fill="none"/><path d="M723.6,15 C721.9,70 735.5,120 733.7,185" stroke="#222" stroke-opacity="0.52" stroke-width="1.08" fill="none"/><path d="M726.7,15 C730.3,70 732.6,120 736.2,185" stroke="#222" stroke-opacity="0.26" stroke-width="1.22" fill="none"/><path d="M732.1,15 C734.9,70 738.0,120 740.8,185" stroke="#222" stroke-opacity="0.45" stroke-width="1.18" fill="none"/><path d="M736.1,15 C739.8,70 740.5,120 744.1,185" stroke="#222" stroke-opacity="0.57" stroke-width="0.97" fill="none"/><path d="M603.9,66.6 q0.8,9.3 2.2,18.7" stroke="#151515" stroke-opacity="0.40" stroke-width="2.21" fill="none"/><path d="M674.6,68.9 q0.3,16.3 3.9,32.5" stroke="#151515" stroke-opacity="0.52" stroke-width="1.31" fill="none"/><path d="M612.9,72.9 q1.8,14.1 3.4,28.2" stroke="#151515" stroke-opacity="0.54" stroke-width="1.06" fill="none"/><path d="M681.6,121.2 q2.2,19.5 4.7,38.9" stroke="#151515" stroke-opacity="0.35" stroke-width="1.65" fill="none"/><path d="M600.0,113.5 q1.8,11.4 2.7,22.7" stroke="#151515" stroke-opacity="0.44" stroke-width="1.98" fill="none"/><path d="M631.5,62.9 q0.2,14.2 3.4,28.5" stroke="#151515" stroke-opacity="0.67" stroke-width="1.41" fill="none"/><path d="M655.4,98.5 q-0.6,21.8 5.2,43.6" stroke="#151515" stroke-opacity="0.56" stroke-width="1.71" fill="none"/><path d="M684.6,127.7 q1.8,13.2 3.2,26.4" stroke="#151515" stroke-opacity="0.53" stroke-width="1.78" fill="none"/><path d="M600.0,117.0 q0.4,22.2 5.3,44.4" stroke="#151515" stroke-opacity="0.46" stroke-width="2.39" fill="none"/><path d="M605.6,65.3 q2.3,10.0 2.4,20.0" stroke="#151515" stroke-opacity="0.62" stroke-width="1.63" fill="none"/><path d="M670.3,61.4 q0.8,17.7 4.2,35.4" stroke="#151515" stroke-opacity="0.53" stroke-width="1.55" fill="none"/><path d="M642.6,75.8 q0.7,9.7 2.3,19.3" stroke="#151515" stroke-opacity="0.44" stroke-width="1.99" fill="none"/><path d="M695.0,110.7 q-0.1,15.2 3.6,30.3" stroke="#151515" stroke-opacity="0.48" stroke-width="1.68" fill="none"/><path d="M671.6,127.4 q0.9,10.2 2.4,20.3" stroke="#151515" stroke-opacity="0.52" stroke-width="2.00" fill="none"/><path d="M704.2,114.6 q2.0,17.5 4.2,34.9" stroke="#151515" stroke-opacity="0.58" stroke-width="2.20" fill="none"/><path d="M680.1,107.8 q2.7,12.3 3.0,24.6" stroke="#151515" stroke-opacity="0.49" stroke-width="1.86" fill="none"/><path d="M695.9,127.5 q-1.0,22.4 5.4,44.7" stroke="#151515" stroke-opacity="0.46" stroke-width="1.44" fill="none"/><path d="M641.3,70.2 q-0.7,16.5 4.0,32.9" stroke="#151515" stroke-opacity="0.46" stroke-width="2.32" fill="none"/><path d="M685.5,92.4 q2.8,10.5 2.5,20.9" stroke="#151515" stroke-opacity="0.60" stroke-width="1.29" fill="none"/><path d="M634.2,104.9 q0.0,18.2 4.4,36.4" stroke="#151515" stroke-opacity="0.68" stroke-width="1.45" fill="none"/><path d="M624.0,119.2 q1.7,11.1 2.7,22.1" stroke="#151515" stroke-opacity="0.42" stroke-width="1.84" fill="none"/><path d="M627.0,86.5 q0.9,21.7 5.2,43.4" stroke="#151515" stroke-opacity="0.50" stroke-width="1.86" fill="none"/><path d="M627.4,72.2 q0.1,14.2 3.4,28.4" stroke="#151515" stroke-opacity="0.42" stroke-width="2.35" fill="none"/><path d="M596.3,116.7 q1.8,21.6 5.2,43.2" stroke="#151515" stroke-opacity="0.36" stroke-width="1.70" fill="none"/><path d="M596.9,102.6 q-0.0,18.5 4.4,36.9" stroke="#151515" stroke-opacity="0.35" stroke-width="1.76" fill="none"/><path d="M603.9,81.6 q2.6,15.1 3.6,30.3" stroke="#151515" stroke-opacity="0.48" stroke-width="1.19" fill="none"/><path d="M691.8,117.6 q-0.8,16.1 3.9,32.3" stroke="#151515" stroke-opacity="0.42" stroke-width="1.56" fill="none"/><path d="M661.5,75.8 q2.4,19.8 4.8,39.7" stroke="#151515" stroke-opacity="0.67" stroke-width="2.24" fill="none"/><path d="M594.2,100.7 q2.6,10.1 2.4,20.2" stroke="#151515" stroke-opacity="0.61" stroke-width="2.06" fill="none"/><path d="M615.7,64.2 q1.4,20.0 4.8,40.0" stroke="#151515" stroke-opacity="0.57" stroke-width="1.66" fill="none"/><ellipse cx="688.0" cy="75.1" rx="1.8" ry="2.4" fill="#c0c0c0" opacity="0.4"/><ellipse cx="657.9" cy="83.8" rx="2.4" ry="2.1" fill="#c0c0c0" opacity="0.4"/><ellipse cx="644.1" cy="80.4" rx="2.2" ry="2.2" fill="#c0c0c0" opacity="0.4"/><ellipse cx="656.2" cy="66.8" rx="1.5" ry="2.5" fill="#c0c0c0" opacity="0.4"/><ellipse cx="680.8" cy="84.6" rx="1.7" ry="2.1" fill="#c0c0c0" opacity="0.4"/><ellipse cx="695.9" cy="81.2" rx="1.9" ry="2.7" fill="#c0c0c0" opacity="0.4"/><ellipse cx="683.7" cy="80.7" rx="1.6" ry="2.8" fill="#c0c0c0" opacity="0.4"/><ellipse cx="652.8" cy="66.2" rx="1.9" ry="2.5" fill="#c0c0c0" opacity="0.4"/><ellipse cx="677.7" cy="70.2" rx="2.2" ry="2.5" fill="#c0c0c0" opacity="0.4"/><ellipse cx="649.7" cy="90.5" rx="2.3" ry="2.9" fill="#c0c0c0" opacity="0.4"/><ellipse cx="680.8" cy="71.5" rx="2.3" ry="2.9" fill="#c0c0c0" opacity="0.4"/><ellipse cx="672.0" cy="92.3" rx="2.5" ry="2.4" fill="#c0c0c0" opacity="0.4"/><polygon points="650,166.7 664.2,158.7 676.3,156.6 690.5,148.5 708.7,135.4 716.7,125.3 726.9,120.2 736,128 736,185 650,185" fill="url(#undg)" opacity="0.75" filter="url(#undblur)"/><path d="M730.3,168.7 l-3.2,35" stroke="#7a7a7a" stroke-opacity="0.3" stroke-width="0.8" fill="none"/><path d="M655.9,157.0 l-4.3,35" stroke="#7a7a7a" stroke-opacity="0.3" stroke-width="0.8" fill="none"/><path d="M703.6,165.1 l-4.1,35" stroke="#7a7a7a" stroke-opacity="0.3" stroke-width="0.8" fill="none"/><path d="M667.9,168.6 l-4.8,35" stroke="#7a7a7a" stroke-opacity="0.3" stroke-width="0.8" fill="none"/><path d="M725.5,154.1 l-2.0,35" stroke="#7a7a7a" stroke-opacity="0.3" stroke-width="0.8" fill="none"/><path d="M699.4,165.5 l-3.6,35" stroke="#7a7a7a" stroke-opacity="0.3" stroke-width="0.8" fill="none"/><path d="M725.6,157.2 l-7.5,35" stroke="#7a7a7a" stroke-opacity="0.3" stroke-width="0.8" fill="none"/><path d="M687.4,153.6 l-4.8,35" stroke="#7a7a7a" stroke-opacity="0.3" stroke-width="0.8" fill="none"/><path d="M720.2,157.2 l-7.2,35" stroke="#7a7a7a" stroke-opacity="0.3" stroke-width="0.8" fill="none"/><path d="M657.2,158.5 l-4.5,35" stroke="#7a7a7a" stroke-opacity="0.3" stroke-width="0.8" fill="none"/><path d="M657.1,163.3 l-6.7,35" stroke="#7a7a7a" stroke-opacity="0.3" stroke-width="0.8" fill="none"/><path d="M663.6,168.6 l-4.9,35" stroke="#7a7a7a" stroke-opacity="0.3" stroke-width="0.8" fill="none"/><path d="M726.6,160.3 l-7.3,35" stroke="#7a7a7a" stroke-opacity="0.3" stroke-width="0.8" fill="none"/><path d="M674.2,158.5 l-4.2,35" stroke="#7a7a7a" stroke-opacity="0.3" stroke-width="0.8" fill="none"/><path d="M716.7,165.0 l-4.1,35" stroke="#7a7a7a" stroke-opacity="0.3" stroke-width="0.8" fill="none"/><path d="M675.2,158.6 l-5.7,35" stroke="#7a7a7a" stroke-opacity="0.3" stroke-width="0.8" fill="none"/><ellipse cx="592.8" cy="96.6" rx="5.8" ry="7.8" fill="#b4b4b4"/><ellipse cx="591.5" cy="94.5" rx="3.5" ry="4.5" fill="#c8c8c8"/><path d="M630,131 q7,-3 13,-1" stroke="#e0e0e0" stroke-width="2" fill="none" opacity="0.7"/></g></g>
<rect x="509.2" y="182.7" width="246.8" height="17" fill="#000"/>
<rect x="637.5" y="184" width="34" height="11.5" fill="#1e1e1e"/>
<text x="513.8" y="190.6" font-size="6" font-weight="bold" fill="#cfcfcf" text-anchor="start" textLength="8" lengthAdjust="spacingAndGlyphs" >SEI</text>
<text x="533" y="190.6" font-size="6" font-weight="bold" fill="#cfcfcf" text-anchor="start" textLength="13" lengthAdjust="spacingAndGlyphs" >20kV</text>
<text x="562.8" y="190.6" font-size="6" font-weight="bold" fill="#cfcfcf" text-anchor="start" textLength="27" lengthAdjust="spacingAndGlyphs" >WD10mm</text>
<text x="598.8" y="190.6" font-size="6" font-weight="bold" fill="#cfcfcf" text-anchor="start" textLength="15" lengthAdjust="spacingAndGlyphs" >SS35</text>
<text x="513.8" y="198.4" font-size="6" font-weight="bold" fill="#cfcfcf" text-anchor="start" textLength="25" lengthAdjust="spacingAndGlyphs" >UNCFSU</text>
<text x="646" y="192" font-size="6" font-weight="normal" fill="#aaa" text-anchor="start" textLength="20" lengthAdjust="spacingAndGlyphs" >×6500</text>
<text x="675.8" y="191" font-size="6" font-weight="bold" fill="#cfcfcf" text-anchor="start" textLength="12" lengthAdjust="spacingAndGlyphs" >2μm</text>
<text x="680" y="198.2" font-size="6" font-weight="bold" fill="#cfcfcf" text-anchor="start" textLength="13.6" lengthAdjust="spacingAndGlyphs" >0025</text>
<rect x="703" y="186.5" width="25" height="2" fill="#eee"/>
<text x="525" y="29.3" font-size="16" font-weight="bold" fill="#fff" text-anchor="start" textLength="20.2" lengthAdjust="spacingAndGlyphs" >(c)</text>
<defs><linearGradient id="cbar" x1="0" y1="0" x2="0" y2="1"><stop offset="0" stop-color="#F8F195"/><stop offset="0.18" stop-color="#E6C95A"/><stop offset="0.38" stop-color="#B98320"/><stop offset="0.6" stop-color="#6E3E0E"/><stop offset="0.8" stop-color="#2E1406"/><stop offset="1" stop-color="#030100"/></linearGradient></defs>
<rect x="25.5" y="226.8" width="177.2" height="180.6" fill="#3a1705"/>
<rect x="25.5" y="227" width="177.2" height="3" fill="#000" opacity="0.02"/><rect x="25.5" y="230" width="177.2" height="3" fill="#4a1e08" opacity="0.03"/><rect x="25.5" y="233" width="177.2" height="3" fill="#000" opacity="0.04"/><rect x="25.5" y="236" width="177.2" height="3" fill="#4a1e08" opacity="0.00"/><rect x="25.5" y="239" width="177.2" height="3" fill="#000" opacity="0.02"/><rect x="25.5" y="242" width="177.2" height="3" fill="#000" opacity="0.07"/><rect x="25.5" y="245" width="177.2" height="3" fill="#000" opacity="0.06"/><rect x="25.5" y="248" width="177.2" height="3" fill="#000" opacity="0.04"/><rect x="25.5" y="251" width="177.2" height="3" fill="#4a1e08" opacity="0.04"/><rect x="25.5" y="254" width="177.2" height="3" fill="#4a1e08" opacity="0.04"/><rect x="25.5" y="257" width="177.2" height="3" fill="#000" opacity="0.05"/><rect x="25.5" y="260" width="177.2" height="3" fill="#000" opacity="0.05"/><rect x="25.5" y="263" width="177.2" height="3" fill="#000" opacity="0.02"/><rect x="25.5" y="266" width="177.2" height="3" fill="#000" opacity="0.06"/><rect x="25.5" y="269" width="177.2" height="3" fill="#4a1e08" opacity="0.05"/><rect x="25.5" y="272" width="177.2" height="3" fill="#4a1e08" opacity="0.05"/><rect x="25.5" y="275" width="177.2" height="3" fill="#4a1e08" opacity="0.03"/><rect x="25.5" y="278" width="177.2" height="3" fill="#4a1e08" opacity="0.03"/><rect x="25.5" y="281" width="177.2" height="3" fill="#000" opacity="0.06"/><rect x="25.5" y="284" width="177.2" height="3" fill="#000" opacity="0.01"/><rect x="25.5" y="287" width="177.2" height="3" fill="#000" opacity="0.07"/><rect x="25.5" y="290" width="177.2" height="3" fill="#000" opacity="0.04"/><rect x="25.5" y="293" width="177.2" height="3" fill="#000" opacity="0.04"/><rect x="25.5" y="296" width="177.2" height="3" fill="#000" opacity="0.02"/><rect x="25.5" y="299" width="177.2" height="3" fill="#4a1e08" opacity="0.04"/><rect x="25.5" y="302" width="177.2" height="3" fill="#4a1e08" opacity="0.05"/><rect x="25.5" y="305" width="177.2" height="3" fill="#4a1e08" opacity="0.06"/><rect x="25.5" y="308" width="177.2" height="3" fill="#000" opacity="0.05"/><rect x="25.5" y="311" width="177.2" height="3" fill="#4a1e08" opacity="0.06"/><rect x="25.5" y="314" width="177.2" height="3" fill="#000" opacity="0.06"/><rect x="25.5" y="317" width="177.2" height="3" fill="#000" opacity="0.05"/><rect x="25.5" y="320" width="177.2" height="3" fill="#000" opacity="0.06"/><rect x="25.5" y="323" width="177.2" height="3" fill="#000" opacity="0.02"/><rect x="25.5" y="326" width="177.2" height="3" fill="#4a1e08" opacity="0.06"/><rect x="25.5" y="329" width="177.2" height="3" fill="#4a1e08" opacity="0.01"/><rect x="25.5" y="332" width="177.2" height="3" fill="#000" opacity="0.03"/><rect x="25.5" y="335" width="177.2" height="3" fill="#4a1e08" opacity="0.02"/><rect x="25.5" y="338" width="177.2" height="3" fill="#000" opacity="0.06"/><rect x="25.5" y="341" width="177.2" height="3" fill="#000" opacity="0.04"/><rect x="25.5" y="344" width="177.2" height="3" fill="#000" opacity="0.05"/><rect x="25.5" y="347" width="177.2" height="3" fill="#4a1e08" opacity="0.06"/><rect x="25.5" y="350" width="177.2" height="3" fill="#4a1e08" opacity="0.04"/><rect x="25.5" y="353" width="177.2" height="3" fill="#000" opacity="0.02"/><rect x="25.5" y="356" width="177.2" height="3" fill="#000" opacity="0.04"/><rect x="25.5" y="359" width="177.2" height="3" fill="#000" opacity="0.01"/><rect x="25.5" y="362" width="177.2" height="3" fill="#000" opacity="0.04"/><rect x="25.5" y="365" width="177.2" height="3" fill="#4a1e08" opacity="0.00"/><rect x="25.5" y="368" width="177.2" height="3" fill="#4a1e08" opacity="0.02"/><rect x="25.5" y="371" width="177.2" height="3" fill="#000" opacity="0.06"/><rect x="25.5" y="374" width="177.2" height="3" fill="#000" opacity="0.03"/><rect x="25.5" y="377" width="177.2" height="3" fill="#000" opacity="0.05"/><rect x="25.5" y="380" width="177.2" height="3" fill="#4a1e08" opacity="0.04"/><rect x="25.5" y="383" width="177.2" height="3" fill="#000" opacity="0.07"/><rect x="25.5" y="386" width="177.2" height="3" fill="#4a1e08" opacity="0.03"/><rect x="25.5" y="389" width="177.2" height="3" fill="#000" opacity="0.02"/><rect x="25.5" y="392" width="177.2" height="3" fill="#000" opacity="0.07"/><rect x="25.5" y="395" width="177.2" height="3" fill="#000" opacity="0.04"/><rect x="25.5" y="398" width="177.2" height="3" fill="#000" opacity="0.03"/><rect x="25.5" y="401" width="177.2" height="3" fill="#4a1e08" opacity="0.00"/><rect x="25.5" y="404" width="177.2" height="3" fill="#000" opacity="0.04"/><rect x="132.4" y="311.1" width="12.5" height="1.6" fill="#120600" opacity="0.58"/><rect x="151.0" y="232.9" width="5.7" height="1.9" fill="#120600" opacity="0.69"/><rect x="69.2" y="309.3" width="11.5" height="1.5" fill="#120600" opacity="0.45"/><rect x="79.5" y="294.0" width="11.6" height="1.5" fill="#120600" opacity="0.45"/><rect x="156.7" y="233.7" width="11.3" height="1.9" fill="#120600" opacity="0.42"/><rect x="64.4" y="370.5" width="7.6" height="1.4" fill="#120600" opacity="0.47"/><rect x="144.3" y="246.9" width="8.5" height="1.5" fill="#120600" opacity="0.63"/><rect x="100.7" y="379.6" width="6.9" height="1.5" fill="#120600" opacity="0.56"/><rect x="175.7" y="308.4" width="7.5" height="1.3" fill="#120600" opacity="0.51"/><rect x="59.1" y="371.0" width="14.2" height="1.4" fill="#120600" opacity="0.41"/><rect x="162.6" y="342.0" width="13.9" height="1.5" fill="#120600" opacity="0.35"/><rect x="76.0" y="368.7" width="8.0" height="1.5" fill="#120600" opacity="0.47"/><rect x="97.5" y="301.1" width="15.1" height="1.4" fill="#120600" opacity="0.30"/><rect x="185.5" y="383.9" width="15.9" height="1.6" fill="#120600" opacity="0.68"/><rect x="182.8" y="268.1" width="13.2" height="2.0" fill="#120600" opacity="0.57"/><rect x="114.2" y="279.9" width="8.8" height="1.4" fill="#120600" opacity="0.33"/><rect x="125.9" y="279.5" width="13.9" height="1.2" fill="#120600" opacity="0.66"/><rect x="143.5" y="391.6" width="14.9" height="2.1" fill="#120600" opacity="0.53"/><rect x="29.2" y="360.2" width="6.9" height="1.5" fill="#120600" opacity="0.57"/><rect x="115.2" y="301.8" width="15.3" height="1.8" fill="#120600" opacity="0.44"/><rect x="69.4" y="380.7" width="10.2" height="2.0" fill="#120600" opacity="0.44"/><rect x="60.2" y="323.1" width="14.0" height="1.4" fill="#120600" opacity="0.62"/><rect x="181.9" y="370.9" width="14.1" height="1.2" fill="#120600" opacity="0.55"/><rect x="171.9" y="237.8" width="8.0" height="1.5" fill="#120600" opacity="0.51"/><rect x="98.1" y="312.2" width="13.5" height="1.2" fill="#120600" opacity="0.32"/><circle cx="49.1" cy="250.9" r="0.6" fill="#F0C040"/><circle cx="196.6" cy="379.4" r="0.6" fill="#7a4512"/><circle cx="114.4" cy="284.6" r="0.8" fill="#C89020"/><rect x="79.1" y="341.9" width="6.6" height="2" fill="#100500" opacity="0.5"/><circle cx="88.1" cy="342.9" r="1.0" fill="#A06818"/><circle cx="84.2" cy="250.8" r="1.0" fill="#C89020"/><circle cx="93.2" cy="243.1" r="0.7" fill="#C89020"/><circle cx="91.9" cy="335.4" r="1.0" fill="#F0C040"/><circle cx="34.6" cy="385.0" r="0.6" fill="#A06818"/><circle cx="136.2" cy="362.8" r="0.8" fill="#F0C040"/><circle cx="192.4" cy="302.6" r="0.6" fill="#E0B030"/><circle cx="65.0" cy="276.5" r="1.0" fill="#C89020"/><circle cx="66.1" cy="251.9" r="0.6" fill="#A06818"/><circle cx="92.1" cy="387.0" r="0.8" fill="#C89020"/><circle cx="107.8" cy="250.7" r="1.2" fill="#D8A028"/><circle cx="119.3" cy="295.3" r="0.6" fill="#D8A028"/><rect x="73.4" y="321.6" width="6.4" height="2" fill="#100500" opacity="0.5"/><circle cx="82.4" cy="322.6" r="1.0" fill="#D8A028"/><circle cx="161.7" cy="236.8" r="0.6" fill="#7a4512"/><circle cx="44.3" cy="384.0" r="0.7" fill="#C89020"/><circle cx="86.4" cy="379.0" r="0.6" fill="#C89020"/><circle cx="144.2" cy="376.2" r="0.8" fill="#7a4512"/><circle cx="79.1" cy="244.6" r="1.0" fill="#7a4512"/><circle cx="68.5" cy="326.6" r="0.6" fill="#7a4512"/><circle cx="37.6" cy="286.1" r="1.0" fill="#E0B030"/><circle cx="69.1" cy="260.6" r="0.7" fill="#F0C040"/><rect x="125.2" y="360.6" width="7.2" height="2" fill="#100500" opacity="0.5"/><circle cx="134.2" cy="361.6" r="0.9" fill="#A06818"/><circle cx="87.9" cy="302.6" r="0.6" fill="#F0C040"/><circle cx="114.1" cy="400.3" r="0.9" fill="#D8A028"/><circle cx="99.3" cy="329.0" r="1.0" fill="#D8A028"/><rect x="137.3" y="255.5" width="7.5" height="2" fill="#100500" opacity="0.5"/><circle cx="146.3" cy="256.5" r="0.9" fill="#E0B030"/><circle cx="111.1" cy="352.0" r="0.9" fill="#7a4512"/><circle cx="59.4" cy="276.1" r="0.7" fill="#E0B030"/><circle cx="128.9" cy="284.4" r="0.7" fill="#D8A028"/><circle cx="120.6" cy="366.2" r="1.2" fill="#D8A028"/><circle cx="130.6" cy="331.9" r="0.8" fill="#E0B030"/><rect x="71.5" y="275.2" width="7.1" height="2" fill="#100500" opacity="0.5"/><circle cx="80.5" cy="276.2" r="0.9" fill="#E0B030"/><circle cx="83.0" cy="365.3" r="0.7" fill="#F0C040"/><rect x="190.5" y="312.4" width="8.5" height="2" fill="#100500" opacity="0.5"/><circle cx="199.5" cy="313.4" r="1.0" fill="#E0B030"/><rect x="161.0" y="326.1" width="8.8" height="2" fill="#100500" opacity="0.5"/><circle cx="170.0" cy="327.1" r="0.9" fill="#D8A028"/><circle cx="163.3" cy="384.2" r="0.6" fill="#F0C040"/><circle cx="185.5" cy="385.8" r="1.2" fill="#D8A028"/><circle cx="39.1" cy="267.3" r="0.8" fill="#E0B030"/><circle cx="181.9" cy="365.5" r="0.7" fill="#E0B030"/><circle cx="135.2" cy="347.8" r="0.6" fill="#A06818"/><circle cx="56.5" cy="236.9" r="0.7" fill="#F0C040"/><circle cx="42.8" cy="369.6" r="0.6" fill="#C89020"/><circle cx="73.0" cy="389.8" r="0.6" fill="#A06818"/><circle cx="105.7" cy="358.2" r="0.8" fill="#C89020"/><rect x="23.1" y="286.3" width="7.9" height="2" fill="#100500" opacity="0.5"/><circle cx="32.1" cy="287.3" r="0.9" fill="#F0C040"/><circle cx="156.2" cy="315.2" r="0.7" fill="#7a4512"/><circle cx="82.5" cy="384.5" r="0.6" fill="#D8A028"/><rect x="93.3" y="305.2" width="8.8" height="2" fill="#100500" opacity="0.5"/><circle cx="102.3" cy="306.2" r="1.0" fill="#A06818"/><circle cx="92.1" cy="364.9" r="0.9" fill="#A06818"/><circle cx="143.6" cy="395.2" r="0.8" fill="#C89020"/><circle cx="158.2" cy="398.2" r="1.2" fill="#7a4512"/><circle cx="46.7" cy="315.9" r="0.8" fill="#C89020"/><rect x="142.9" y="347.4" width="7.9" height="2" fill="#100500" opacity="0.5"/><circle cx="151.9" cy="348.4" r="1.0" fill="#D8A028"/><rect x="127.8" y="259.5" width="8.8" height="2" fill="#100500" opacity="0.5"/><circle cx="136.8" cy="260.5" r="1.2" fill="#F0C040"/><circle cx="51.6" cy="287.3" r="1.2" fill="#D8A028"/><rect x="114.6" y="342.0" width="6.5" height="2" fill="#100500" opacity="0.5"/><circle cx="123.6" cy="343.0" r="0.9" fill="#F0C040"/><circle cx="38.9" cy="355.0" r="1.0" fill="#7a4512"/><circle cx="95.2" cy="246.6" r="0.8" fill="#F0C040"/><rect x="27.3" y="252.0" width="8.1" height="2" fill="#100500" opacity="0.5"/><circle cx="36.3" cy="253.0" r="0.9" fill="#7a4512"/><circle cx="116.6" cy="383.0" r="0.9" fill="#F0C040"/><circle cx="161.3" cy="291.1" r="0.6" fill="#E0B030"/><circle cx="74.1" cy="246.5" r="0.6" fill="#7a4512"/><circle cx="162.5" cy="357.0" r="0.7" fill="#D8A028"/><circle cx="59.9" cy="302.3" r="1.2" fill="#F0C040"/><circle cx="157.3" cy="333.2" r="0.7" fill="#F0C040"/><circle cx="165.9" cy="324.9" r="0.7" fill="#7a4512"/><circle cx="58.1" cy="381.9" r="0.8" fill="#A06818"/><rect x="23.2" y="369.4" width="8.7" height="2" fill="#100500" opacity="0.5"/><circle cx="32.2" cy="370.4" r="0.9" fill="#F0C040"/><circle cx="80.9" cy="316.6" r="1.0" fill="#D8A028"/><circle cx="182.9" cy="346.5" r="0.6" fill="#7a4512"/><circle cx="60.1" cy="340.6" r="0.6" fill="#D8A028"/><rect x="58.7" y="258.5" width="8.3" height="2" fill="#100500" opacity="0.5"/><circle cx="67.7" cy="259.5" r="1.2" fill="#F0C040"/><rect x="54.9" y="371.0" width="6.8" height="2" fill="#100500" opacity="0.5"/><circle cx="63.9" cy="372.0" r="1.2" fill="#F0C040"/><circle cx="141.4" cy="255.9" r="0.9" fill="#C89020"/><circle cx="35.8" cy="292.3" r="0.7" fill="#7a4512"/><circle cx="40.5" cy="323.8" r="0.8" fill="#A06818"/><rect x="75.1" y="288.5" width="8.5" height="2" fill="#100500" opacity="0.5"/><circle cx="84.1" cy="289.5" r="1.2" fill="#E0B030"/><circle cx="161.9" cy="235.0" r="0.6" fill="#D8A028"/><circle cx="200.0" cy="404.6" r="0.7" fill="#C89020"/><circle cx="176.9" cy="305.9" r="0.7" fill="#F0C040"/><circle cx="82.0" cy="367.5" r="0.9" fill="#C89020"/><rect x="140.8" y="296.9" width="8.6" height="2" fill="#100500" opacity="0.5"/><circle cx="149.8" cy="297.9" r="0.9" fill="#D8A028"/><circle cx="63.3" cy="315.1" r="0.6" fill="#F0C040"/><rect x="97.6" y="349.7" width="6.1" height="2" fill="#100500" opacity="0.5"/><circle cx="106.6" cy="350.7" r="0.9" fill="#E0B030"/><rect x="62.7" y="377.4" width="7.2" height="2" fill="#100500" opacity="0.5"/><circle cx="71.7" cy="378.4" r="0.9" fill="#7a4512"/><circle cx="195.7" cy="370.5" r="0.8" fill="#A06818"/><circle cx="52.0" cy="310.0" r="0.7" fill="#E0B030"/><rect x="54.4" y="258.1" width="6.1" height="2" fill="#100500" opacity="0.5"/><circle cx="63.4" cy="259.1" r="0.9" fill="#7a4512"/><rect x="37.2" y="257.6" width="6.1" height="2" fill="#100500" opacity="0.5"/><circle cx="46.2" cy="258.6" r="0.9" fill="#E0B030"/><rect x="96.0" y="299.8" width="7.2" height="2" fill="#100500" opacity="0.5"/><circle cx="105.0" cy="300.8" r="1.2" fill="#D8A028"/><circle cx="96.0" cy="233.7" r="0.7" fill="#E0B030"/><circle cx="43.4" cy="312.5" r="0.7" fill="#A06818"/><circle cx="135.3" cy="290.0" r="0.6" fill="#7a4512"/><circle cx="36.0" cy="357.1" r="0.8" fill="#F0C040"/><circle cx="164.3" cy="398.3" r="0.9" fill="#E0B030"/><circle cx="32.2" cy="288.3" r="0.8" fill="#A06818"/><circle cx="43.3" cy="349.1" r="0.6" fill="#7a4512"/><rect x="125.5" y="246.4" width="7.5" height="2" fill="#100500" opacity="0.5"/><circle cx="134.5" cy="247.4" r="1.2" fill="#C89020"/><rect x="101.8" y="261.3" width="8.9" height="2" fill="#100500" opacity="0.5"/><circle cx="110.8" cy="262.3" r="1.0" fill="#A06818"/><circle cx="110.0" cy="370.4" r="0.8" fill="#D8A028"/><circle cx="33.0" cy="282.6" r="1.0" fill="#D8A028"/><circle cx="42.3" cy="280.6" r="0.9" fill="#C89020"/><circle cx="122.2" cy="323.4" r="0.9" fill="#E0B030"/><circle cx="177.4" cy="296.9" r="1.0" fill="#A06818"/><circle cx="90.1" cy="302.0" r="0.7" fill="#F0C040"/><circle cx="162.6" cy="313.6" r="0.8" fill="#E0B030"/><rect x="106.2" y="360.5" width="7.5" height="2" fill="#100500" opacity="0.5"/><circle cx="115.2" cy="361.5" r="1.2" fill="#D8A028"/>
<line x1="25.3" y1="226.3" x2="203" y2="226.3" stroke="#9a9a9a" stroke-width="1"/>
<line x1="25.3" y1="226.3" x2="25.3" y2="407.6" stroke="#9a9a9a" stroke-width="1"/>
<line x1="25.3" y1="407.6" x2="203" y2="407.6" stroke="#777" stroke-width="0.8"/>
<line x1="25.9" y1="222.7" x2="25.9" y2="226.3" stroke="#9a9a9a" stroke-width="1"/>
<line x1="61.2" y1="222.7" x2="61.2" y2="226.3" stroke="#9a9a9a" stroke-width="1"/>
<line x1="96.5" y1="222.7" x2="96.5" y2="226.3" stroke="#9a9a9a" stroke-width="1"/>
<line x1="131.8" y1="222.7" x2="131.8" y2="226.3" stroke="#9a9a9a" stroke-width="1"/>
<line x1="167.1" y1="222.7" x2="167.1" y2="226.3" stroke="#9a9a9a" stroke-width="1"/>
<line x1="202.4" y1="222.7" x2="202.4" y2="226.3" stroke="#9a9a9a" stroke-width="1"/>
<line x1="21.8" y1="227.1" x2="25.3" y2="227.1" stroke="#9a9a9a" stroke-width="1"/>
<line x1="21.8" y1="262.7" x2="25.3" y2="262.7" stroke="#9a9a9a" stroke-width="1"/>
<line x1="21.8" y1="298.3" x2="25.3" y2="298.3" stroke="#9a9a9a" stroke-width="1"/>
<line x1="21.8" y1="333.9" x2="25.3" y2="333.9" stroke="#9a9a9a" stroke-width="1"/>
<line x1="21.8" y1="369.5" x2="25.3" y2="369.5" stroke="#9a9a9a" stroke-width="1"/>
<line x1="21.8" y1="405.1" x2="25.3" y2="405.1" stroke="#9a9a9a" stroke-width="1"/>
<text x="26.2" y="220.4" font-size="9.8" font-weight="bold" fill="#000" text-anchor="start" textLength="31.1" lengthAdjust="spacingAndGlyphs" >0.0 μm</text>
<text x="61.5" y="220.4" font-size="9.8" font-weight="bold" fill="#000" text-anchor="start" textLength="13.4" lengthAdjust="spacingAndGlyphs" >0.5</text>
<text x="96.8" y="220.4" font-size="9.8" font-weight="bold" fill="#000" text-anchor="start" textLength="13.4" lengthAdjust="spacingAndGlyphs" >1.0</text>
<text x="132.1" y="220.4" font-size="9.8" font-weight="bold" fill="#000" text-anchor="start" textLength="13.4" lengthAdjust="spacingAndGlyphs" >1.5</text>
<text x="167.4" y="220.4" font-size="9.8" font-weight="bold" fill="#000" text-anchor="start" textLength="13.4" lengthAdjust="spacingAndGlyphs" >2.0</text>
<text x="21.2" y="236.3" font-size="9.8" font-weight="bold" fill="#000" text-anchor="end" textLength="13.1" lengthAdjust="spacingAndGlyphs" >0.0</text>
<text x="21.2" y="271.9" font-size="9.8" font-weight="bold" fill="#000" text-anchor="end" textLength="13.1" lengthAdjust="spacingAndGlyphs" >0.5</text>
<text x="21.2" y="307.5" font-size="9.8" font-weight="bold" fill="#000" text-anchor="end" textLength="13.1" lengthAdjust="spacingAndGlyphs" >1.0</text>
<text x="21.2" y="343.1" font-size="9.8" font-weight="bold" fill="#000" text-anchor="end" textLength="13.1" lengthAdjust="spacingAndGlyphs" >1.5</text>
<text x="21.2" y="378.7" font-size="9.8" font-weight="bold" fill="#000" text-anchor="end" textLength="13.1" lengthAdjust="spacingAndGlyphs" >2.0</text>
<text x="29.5" y="247.8" font-size="16.5" font-weight="bold" fill="#fff" text-anchor="start" textLength="21.1" lengthAdjust="spacingAndGlyphs" >(d)</text>
<rect x="44.2" y="311.9" width="94.9" height="76.6" fill="none" stroke="#ddd5c8" stroke-width="1"/>
<line x1="44.2" y1="388.5" x2="46.5" y2="388.5" stroke="#f4ecdc" stroke-width="0.8"/>
<text x="42.6" y="391.8" font-size="9" font-weight="bold" fill="#f4ecdc" text-anchor="end" >2</text>
<line x1="44.2" y1="369.4" x2="46.5" y2="369.4" stroke="#f4ecdc" stroke-width="0.8"/>
<text x="42.6" y="372.7" font-size="9" font-weight="bold" fill="#f4ecdc" text-anchor="end" >4</text>
<line x1="44.2" y1="350.2" x2="46.5" y2="350.2" stroke="#f4ecdc" stroke-width="0.8"/>
<text x="42.6" y="353.5" font-size="9" font-weight="bold" fill="#f4ecdc" text-anchor="end" >6</text>
<line x1="44.2" y1="331.1" x2="46.5" y2="331.1" stroke="#f4ecdc" stroke-width="0.8"/>
<text x="42.6" y="334.4" font-size="9" font-weight="bold" fill="#f4ecdc" text-anchor="end" >8</text>
<line x1="44.2" y1="311.9" x2="46.5" y2="311.9" stroke="#f4ecdc" stroke-width="0.8"/>
<text x="42.6" y="315.2" font-size="9" font-weight="bold" fill="#f4ecdc" text-anchor="end" >10</text>
<line x1="45.3" y1="386.2" x2="45.3" y2="388.5" stroke="#f4ecdc" stroke-width="0.8"/>
<text x="45.3" y="399.3" font-size="9" font-weight="bold" fill="#f4ecdc" text-anchor="middle" textLength="12.6" lengthAdjust="spacingAndGlyphs" >0.0</text>
<line x1="61.9" y1="386.2" x2="61.9" y2="388.5" stroke="#f4ecdc" stroke-width="0.8"/>
<text x="61.9" y="399.3" font-size="9" font-weight="bold" fill="#f4ecdc" text-anchor="middle" textLength="12.6" lengthAdjust="spacingAndGlyphs" >0.2</text>
<line x1="78.5" y1="386.2" x2="78.5" y2="388.5" stroke="#f4ecdc" stroke-width="0.8"/>
<text x="78.5" y="399.3" font-size="9" font-weight="bold" fill="#f4ecdc" text-anchor="middle" textLength="12.6" lengthAdjust="spacingAndGlyphs" >0.4</text>
<line x1="95.1" y1="386.2" x2="95.1" y2="388.5" stroke="#f4ecdc" stroke-width="0.8"/>
<text x="95.1" y="399.3" font-size="9" font-weight="bold" fill="#f4ecdc" text-anchor="middle" textLength="12.6" lengthAdjust="spacingAndGlyphs" >0.6</text>
<line x1="111.7" y1="386.2" x2="111.7" y2="388.5" stroke="#f4ecdc" stroke-width="0.8"/>
<text x="111.7" y="399.3" font-size="9" font-weight="bold" fill="#f4ecdc" text-anchor="middle" textLength="12.6" lengthAdjust="spacingAndGlyphs" >0.8</text>
<line x1="128.3" y1="386.2" x2="128.3" y2="388.5" stroke="#f4ecdc" stroke-width="0.8"/>
<text x="128.3" y="399.3" font-size="9" font-weight="bold" fill="#f4ecdc" text-anchor="middle" textLength="12.6" lengthAdjust="spacingAndGlyphs" >1.0</text>
<text x="84.8" y="405.5" font-size="9" font-weight="bold" fill="#f4ecdc" text-anchor="start" textLength="13" lengthAdjust="spacingAndGlyphs" >μm</text>
<text x="0" y="0" font-size="9" font-weight="bold" fill="#f4ecdc" text-anchor="start" textLength="14" lengthAdjust="spacingAndGlyphs" transform="translate(35.6,357.3) rotate(-90)">nm</text>
<path d="M44.50,379.91 L45.00,379.66 L45.50,379.06 L46.00,380.76 L46.50,378.66 L47.00,379.81 L47.50,380.73 L48.00,378.72 L48.50,379.82 L49.00,379.93 L49.50,378.48 L50.00,379.13 L50.50,379.44 L51.00,377.50 L51.50,374.85 L52.00,366.97 L52.50,356.71 L53.00,343.25 L53.50,332.12 L54.00,326.95 L54.50,328.71 L55.00,339.15 L55.50,351.26 L56.00,363.71 L56.50,370.00 L57.00,374.64 L57.50,377.27 L58.00,377.89 L58.50,377.24 L59.00,376.47 L59.50,377.09 L60.00,377.32 L60.50,377.84 L61.00,379.14 L61.50,377.24 L62.00,378.14 L62.50,377.48 L63.00,375.04 L63.50,375.55 L64.00,375.67 L64.50,374.44 L65.00,375.31 L65.50,376.36 L66.00,374.25 L66.50,374.89 L67.00,372.30 L67.50,369.95 L68.00,363.94 L68.50,351.64 L69.00,338.72 L69.50,329.01 L70.00,327.27 L70.50,331.57 L71.00,342.76 L71.50,355.39 L72.00,365.14 L72.50,369.13 L73.00,371.43 L73.50,372.81 L74.00,371.57 L74.50,372.40 L75.00,370.75 L75.50,370.84 L76.00,370.67 L76.50,367.80 L77.00,368.91 L77.50,369.58 L78.00,369.40 L78.50,370.61 L79.00,373.04 L79.50,373.41 L80.00,371.31 L80.50,372.23 L81.00,371.40 L81.50,366.58 L82.00,362.00 L82.50,352.97 L83.00,345.64 L83.50,340.79 L84.00,340.01 L84.50,345.13 L85.00,351.27 L85.50,359.79 L86.00,366.95 L86.50,369.77 L87.00,371.08 L87.50,371.51 L88.00,372.77 L88.50,370.82 L89.00,366.92 L89.50,363.43 L90.00,353.26 L90.50,341.51 L91.00,329.13 L91.50,322.56 L92.00,323.12 L92.50,330.98 L93.00,344.51 L93.50,354.81 L94.00,364.72 L94.50,367.57 L95.00,371.53 L95.50,372.41 L96.00,371.91 L96.50,372.49 L97.00,371.39 L97.50,372.57 L98.00,371.81 L98.50,371.33 L99.00,373.05 L99.50,371.59 L100.00,371.30 L100.50,372.05 L101.00,370.19 L101.50,369.94 L102.00,367.57 L102.50,368.02 L103.00,365.75 L103.50,364.92 L104.00,367.46 L104.50,366.41 L105.00,369.43 L105.50,370.70 L106.00,370.76 L106.50,370.02 L107.00,370.55 L107.50,371.12 L108.00,371.64 L108.50,372.13 L109.00,372.77 L109.50,370.84 L110.00,369.62 L110.50,369.94 L111.00,368.63 L111.50,368.80 L112.00,370.62 L112.50,371.66 L113.00,370.62 L113.50,371.77 L114.00,372.46 L114.50,372.61 L115.00,371.64 L115.50,372.70 L116.00,370.62 L116.50,371.24 L117.00,370.25 L117.50,368.99 L118.00,366.48 L118.50,364.36 L119.00,363.94 L119.50,365.78 L120.00,366.32 L120.50,369.03 L121.00,369.10 L121.50,371.73 L122.00,370.93 L122.50,370.68 L123.00,371.17 L123.50,371.88 L124.00,372.14 L124.50,371.74 L125.00,371.26 L125.50,372.10 L126.00,373.47 L126.50,373.02 L127.00,374.89 L127.50,373.90 L128.00,377.40 L128.50,377.85 L129.00,376.91 L129.50,375.89 L130.00,374.35 L130.50,373.18 L131.00,368.31 L131.50,365.35 L132.00,358.54 L132.50,349.07 L133.00,340.00 L133.50,331.05 L134.00,324.53 L134.50,326.55 L135.00,331.97 L135.50,341.44 L136.00,351.76 L136.50,358.74 L137.00,365.89 L137.50,368.77 L138.00,371.73 L138.50,370.93 L139.00,372.64" fill="none" stroke="#EDAE2E" stroke-width="1.1" stroke-linejoin="round"/>
<rect x="210.3" y="226.8" width="11.6" height="180.6" fill="url(#cbar)" stroke="#9a9a9a" stroke-width="0.8"/>
<text x="227" y="235.9" font-size="10.3" font-weight="bold" fill="#000" text-anchor="start" textLength="28" lengthAdjust="spacingAndGlyphs" >12 nm</text>
<line x1="222" y1="227.2" x2="225.5" y2="227.2" stroke="#222" stroke-width="1"/>
<text x="227" y="252.3" font-size="10.3" font-weight="bold" fill="#000" text-anchor="start" >11</text>
<line x1="222" y1="243.6" x2="225.5" y2="243.6" stroke="#222" stroke-width="1"/>
<text x="227" y="268.8" font-size="10.3" font-weight="bold" fill="#000" text-anchor="start" >10</text>
<line x1="222" y1="260.1" x2="225.5" y2="260.1" stroke="#222" stroke-width="1"/>
<text x="227" y="285.2" font-size="10.3" font-weight="bold" fill="#000" text-anchor="start" >9</text>
<line x1="222" y1="276.5" x2="225.5" y2="276.5" stroke="#222" stroke-width="1"/>
<text x="227" y="301.6" font-size="10.3" font-weight="bold" fill="#000" text-anchor="start" >8</text>
<line x1="222" y1="292.9" x2="225.5" y2="292.9" stroke="#222" stroke-width="1"/>
<text x="227" y="318.1" font-size="10.3" font-weight="bold" fill="#000" text-anchor="start" >7</text>
<line x1="222" y1="309.4" x2="225.5" y2="309.4" stroke="#222" stroke-width="1"/>
<text x="227" y="334.5" font-size="10.3" font-weight="bold" fill="#000" text-anchor="start" >6</text>
<line x1="222" y1="325.8" x2="225.5" y2="325.8" stroke="#222" stroke-width="1"/>
<text x="227" y="350.9" font-size="10.3" font-weight="bold" fill="#000" text-anchor="start" >5</text>
<line x1="222" y1="342.2" x2="225.5" y2="342.2" stroke="#222" stroke-width="1"/>
<text x="227" y="367.3" font-size="10.3" font-weight="bold" fill="#000" text-anchor="start" >4</text>
<line x1="222" y1="358.6" x2="225.5" y2="358.6" stroke="#222" stroke-width="1"/>
<text x="227" y="383.8" font-size="10.3" font-weight="bold" fill="#000" text-anchor="start" >3</text>
<line x1="222" y1="375.1" x2="225.5" y2="375.1" stroke="#222" stroke-width="1"/>
<text x="227" y="405.4" font-size="10.3" font-weight="bold" fill="#000" text-anchor="start" >1</text>
<line x1="222" y1="391.6" x2="225.5" y2="391.6" stroke="#222" stroke-width="1"/>
<path d="M493.2,230.8 L278.5,230.8 L278.5,409 L493.2,409" fill="none" stroke="#111" stroke-width="1.4"/>
<line x1="493.2" y1="230.8" x2="493.2" y2="409.5" stroke="#E8AE2C" stroke-width="1.4"/>
<line x1="278.50" y1="409" x2="278.50" y2="412" stroke="#111" stroke-width="1.2"/>
<line x1="278.50" y1="230.8" x2="278.50" y2="233.8" stroke="#111" stroke-width="1.2"/>
<line x1="302.38" y1="409" x2="302.38" y2="410.7" stroke="#111" stroke-width="1.2"/>
<line x1="302.38" y1="230.8" x2="302.38" y2="232.5" stroke="#111" stroke-width="1.2"/>
<line x1="326.25" y1="409" x2="326.25" y2="412" stroke="#111" stroke-width="1.2"/>
<line x1="326.25" y1="230.8" x2="326.25" y2="233.8" stroke="#111" stroke-width="1.2"/>
<line x1="350.12" y1="409" x2="350.12" y2="410.7" stroke="#111" stroke-width="1.2"/>
<line x1="350.12" y1="230.8" x2="350.12" y2="232.5" stroke="#111" stroke-width="1.2"/>
<line x1="374.00" y1="409" x2="374.00" y2="412" stroke="#111" stroke-width="1.2"/>
<line x1="374.00" y1="230.8" x2="374.00" y2="233.8" stroke="#111" stroke-width="1.2"/>
<line x1="397.88" y1="409" x2="397.88" y2="410.7" stroke="#111" stroke-width="1.2"/>
<line x1="397.88" y1="230.8" x2="397.88" y2="232.5" stroke="#111" stroke-width="1.2"/>
<line x1="421.75" y1="409" x2="421.75" y2="412" stroke="#111" stroke-width="1.2"/>
<line x1="421.75" y1="230.8" x2="421.75" y2="233.8" stroke="#111" stroke-width="1.2"/>
<line x1="445.62" y1="409" x2="445.62" y2="410.7" stroke="#111" stroke-width="1.2"/>
<line x1="445.62" y1="230.8" x2="445.62" y2="232.5" stroke="#111" stroke-width="1.2"/>
<line x1="469.50" y1="409" x2="469.50" y2="412" stroke="#111" stroke-width="1.2"/>
<line x1="469.50" y1="230.8" x2="469.50" y2="233.8" stroke="#111" stroke-width="1.2"/>
<line x1="493.38" y1="409" x2="493.38" y2="410.7" stroke="#111" stroke-width="1.2"/>
<line x1="493.38" y1="230.8" x2="493.38" y2="232.5" stroke="#111" stroke-width="1.2"/>
<text x="278.50" y="423.8" font-size="10.3" font-weight="bold" fill="#000" text-anchor="middle" textLength="18.2" lengthAdjust="spacingAndGlyphs" >300</text>
<text x="326.25" y="423.8" font-size="10.3" font-weight="bold" fill="#000" text-anchor="middle" textLength="18.2" lengthAdjust="spacingAndGlyphs" >400</text>
<text x="374.00" y="423.8" font-size="10.3" font-weight="bold" fill="#000" text-anchor="middle" textLength="18.2" lengthAdjust="spacingAndGlyphs" >500</text>
<text x="421.75" y="423.8" font-size="10.3" font-weight="bold" fill="#000" text-anchor="middle" textLength="18.2" lengthAdjust="spacingAndGlyphs" >600</text>
<text x="469.50" y="423.8" font-size="10.3" font-weight="bold" fill="#000" text-anchor="middle" textLength="18.2" lengthAdjust="spacingAndGlyphs" >700</text>
<text x="340.5" y="436.9" font-size="11" font-weight="bold" fill="#000" text-anchor="start" textLength="92.3" lengthAdjust="spacingAndGlyphs" >Wavelength (nm)</text>
<text x="0" y="0" font-size="10.5" font-weight="bold" fill="#000" text-anchor="start" textLength="130" lengthAdjust="spacingAndGlyphs" transform="translate(268.3,385) rotate(-90)">Absorbance (arb. units)</text>
<text x="0" y="0" font-size="10.5" font-weight="bold" fill="#E8AE2C" text-anchor="start" textLength="109.7" lengthAdjust="spacingAndGlyphs" transform="translate(509.4,375.8) rotate(-90)">Emission (arb.units)</text>
<text x="285.4" y="248.6" font-size="16" font-weight="normal" fill="#000" text-anchor="start" textLength="19.5" lengthAdjust="spacingAndGlyphs" stroke="#000" stroke-width="0.6">(e)</text>
<line x1="396" y1="239.8" x2="422" y2="239.8" stroke="#ccc" stroke-width="1"/>
<circle cx="408.8" cy="239.8" r="1.9" fill="#000"/>
<line x1="394.7" y1="254.5" x2="422" y2="254.5" stroke="#E8AE2C" stroke-width="0.8" opacity="0.7"/>
<circle cx="408.8" cy="254.5" r="1.9" fill="#E8AE2C"/>
<text x="426.1" y="243.7" font-size="11" font-weight="bold" fill="#000" text-anchor="start" textLength="64.7" lengthAdjust="spacingAndGlyphs" >Absorbance</text>
<text x="426.1" y="258.3" font-size="11" font-weight="bold" fill="#000" text-anchor="start" textLength="49.4" lengthAdjust="spacingAndGlyphs" >Emission</text>
<path d="M278.50,391.38 L279.20,391.19 L279.90,390.98 L280.60,390.75 L281.30,390.51 L282.00,390.25 L282.70,389.97 L283.40,389.67 L284.10,389.35 L284.80,389.00 L285.50,388.63 L286.20,388.24 L286.90,387.81 L287.60,387.36 L288.30,386.88 L289.00,386.36 L289.70,385.81 L290.40,385.23 L291.10,384.61 L291.80,383.95 L292.50,383.26 L293.20,382.52 L293.90,381.75 L294.60,380.93 L295.30,380.07 L296.00,379.17 L296.70,378.23 L297.40,377.25 L298.10,376.22 L298.80,375.15 L299.50,374.05 L300.20,372.90 L300.90,371.71 L301.60,370.48 L302.30,369.21 L303.00,367.91 L303.70,366.57 L304.40,365.20 L305.10,363.80 L305.80,362.36 L306.50,360.90 L307.20,359.41 L307.90,357.89 L308.60,356.35 L309.30,354.79 L310.00,353.21 L310.70,351.60 L311.40,349.97 L312.10,348.32 L312.80,346.66 L313.50,344.97 L314.20,343.27 L314.90,341.54 L315.60,339.80 L316.30,338.03 L317.00,336.25 L317.70,334.45 L318.40,332.62 L319.10,330.77 L319.80,328.90 L320.50,327.01 L321.20,325.10 L321.90,323.16 L322.60,321.19 L323.30,319.21 L324.00,317.20 L324.70,315.16 L325.40,313.11 L326.10,311.03 L326.80,308.94 L327.50,306.82 L328.20,304.69 L328.90,302.55 L329.60,300.39 L330.30,298.23 L331.00,296.05 L331.70,293.88 L332.40,291.70 L333.10,289.53 L333.80,287.36 L334.50,285.20 L335.20,283.06 L335.90,280.94 L336.60,278.84 L337.30,276.77 L338.00,274.73 L338.70,272.72 L339.40,270.76 L340.10,268.83 L340.80,266.96 L341.50,265.14 L342.20,263.37 L342.90,261.66 L343.60,260.02 L344.30,258.44 L345.00,256.93 L345.70,255.50 L346.40,254.14 L347.10,252.87 L347.80,251.67 L348.50,250.56 L349.20,249.54 L349.90,248.61 L350.60,247.77 L351.30,247.02 L352.00,246.37 L352.70,245.82 L353.40,245.36 L354.10,245.01 L354.80,244.75 L355.50,244.60 L356.20,244.54 L356.90,244.59 L357.60,244.73 L358.30,244.98 L359.00,245.33 L359.70,245.78 L360.40,246.32 L361.10,246.97 L361.80,247.71 L362.50,248.54 L363.20,249.47 L363.90,250.49 L364.60,251.60 L365.30,252.80 L366.00,254.08 L366.70,255.44 L367.40,256.88 L368.10,258.40 L368.80,260.00 L369.50,261.66 L370.20,263.40 L370.90,265.20 L371.60,267.06 L372.30,268.97 L373.00,270.94 L373.70,272.97 L374.40,275.04 L375.10,277.15 L375.80,279.31 L376.50,281.50 L377.20,283.73 L377.90,285.98 L378.60,288.26 L379.30,290.57 L380.00,292.89 L380.70,295.23 L381.40,297.57 L382.10,299.93 L382.80,302.30 L383.50,304.66 L384.20,307.02 L384.90,309.38 L385.60,311.74 L386.30,314.08 L387.00,316.41 L387.70,318.72 L388.40,321.01 L389.10,323.29 L389.80,325.54 L390.50,327.77 L391.20,329.96 L391.90,332.13 L392.60,334.27 L393.30,336.38 L394.00,338.45 L394.70,340.48 L395.40,342.48 L396.10,344.43 L396.80,346.35 L397.50,348.23 L398.20,350.06 L398.90,351.85 L399.60,353.60 L400.30,355.30 L401.00,356.96 L401.70,358.57 L402.40,360.14 L403.10,361.67 L403.80,363.14 L404.50,364.58 L405.20,365.96 L405.90,367.31 L406.60,368.60 L407.30,369.85 L408.00,371.06 L408.70,372.23 L409.40,373.35 L410.10,374.43 L410.80,375.47 L411.50,376.46 L412.20,377.42 L412.90,378.34 L413.60,379.22 L414.30,380.06 L415.00,380.86 L415.70,381.63 L416.40,382.37 L417.10,383.07 L417.80,383.74 L418.50,384.37 L419.20,384.98 L419.90,385.56 L420.60,386.10 L421.30,386.62 L422.00,387.12 L422.70,387.59 L423.40,388.03 L424.10,388.45 L424.80,388.85 L425.50,389.22 L426.20,389.58 L426.90,389.91 L427.60,390.22 L428.30,390.52 L429.00,390.80 L429.70,391.06 L430.40,391.31 L431.10,391.54 L431.80,391.76 L432.50,391.97 L433.20,392.16 L433.90,392.34 L434.60,392.50 L435.30,392.66 L436.00,392.81 L436.70,392.95 L437.40,393.07 L438.10,393.19 L438.80,393.30 L439.50,393.41 L440.20,393.50 L440.90,393.59 L441.60,393.67 L442.30,393.75 L443.00,393.82 L443.70,393.89 L444.40,393.95 L445.10,394.01 L445.80,394.06 L446.50,394.11 L447.20,394.15 L447.90,394.19 L448.60,394.23 L449.30,394.27 L450.00,394.30 L450.70,394.33 L451.40,394.36 L452.10,394.38 L452.80,394.40 L453.50,394.43 L454.20,394.45 L454.90,394.46 L455.60,394.48 L456.30,394.49 L457.00,394.51 L457.70,394.52 L458.40,394.53 L459.10,394.54 L459.80,394.55 L460.50,394.56 L461.20,394.57 L461.90,394.57 L462.60,394.58 L463.30,394.59 L464.00,394.59 L464.70,394.60 L465.40,394.60 L466.10,394.60 L466.80,394.61 L467.50,394.61 L468.20,394.61 L468.90,394.62 L469.60,394.62 L470.30,394.62 L471.00,394.62 L471.70,394.63 L472.40,394.63 L473.10,394.63 L473.80,394.63 L474.50,394.63 L475.20,394.63 L475.90,394.63 L476.60,394.63 L477.30,394.63 L478.00,394.63 L478.70,394.64 L479.40,394.64 L480.10,394.64 L480.80,394.64 L481.50,394.64 L482.20,394.64 L482.90,394.64 L483.60,394.64 L484.30,394.64 L485.00,394.64 L485.70,394.64 L486.40,394.64 L487.10,394.64 L487.80,394.64 L488.50,394.64 L489.20,394.64 L489.90,394.64 L490.60,394.64 L491.30,394.64 L492.00,394.64 L492.70,394.64" fill="none" stroke="#E8AE2C" stroke-width="3.3" stroke-linejoin="round"/>
<path d="M278.50,267.72 L279.30,268.13 L280.10,268.53 L280.90,269.00 L281.70,269.29 L282.50,269.83 L283.30,269.74 L284.10,270.48 L284.90,271.25 L285.70,271.59 L286.50,272.27 L287.30,272.35 L288.10,273.14 L288.90,273.60 L289.70,274.38 L290.50,275.03 L291.30,275.34 L292.10,276.13 L292.90,276.84 L293.70,277.92 L294.50,278.55 L295.30,278.92 L296.10,280.05 L296.90,280.42 L297.70,281.48 L298.50,281.98 L299.30,282.72 L300.10,284.06 L300.90,284.51 L301.70,285.36 L302.50,286.69 L303.30,287.50 L304.10,288.05 L304.90,289.36 L305.70,290.02 L306.50,291.03 L307.30,291.69 L308.10,293.09 L308.90,293.90 L309.70,295.05 L310.50,295.99 L311.30,296.63 L312.10,297.68 L312.90,298.59 L313.70,299.61 L314.50,300.60 L315.30,301.80 L316.10,303.04 L316.90,303.75 L317.70,305.24 L318.50,306.14 L319.30,307.22 L320.10,308.64 L320.90,309.57 L321.70,310.60 L322.50,311.85 L323.30,313.14 L324.10,313.91 L324.90,315.64 L325.70,316.25 L326.50,317.88 L327.30,319.13 L328.10,319.84 L328.90,321.50 L329.70,322.46 L330.50,323.80 L331.30,324.66 L332.10,325.89 L332.90,327.17 L333.70,328.83 L334.50,329.57 L335.30,331.09 L336.10,332.37 L336.90,333.55 L337.70,334.36 L338.50,335.52 L339.30,336.76 L340.10,338.05 L340.90,338.77 L341.70,340.27 L342.50,341.40 L343.30,342.53 L344.10,343.11 L344.90,344.72 L345.70,345.25 L346.50,346.44 L347.30,347.61 L348.10,348.80 L348.90,349.44 L349.70,350.75 L350.50,351.47 L351.30,352.26 L352.10,353.18 L352.90,353.98 L353.70,354.79 L354.50,355.68 L355.30,356.83 L356.10,357.82 L356.90,358.10 L357.70,358.80 L358.50,360.12 L359.30,360.58 L360.10,361.23 L360.90,361.84 L361.70,362.75 L362.50,363.59 L363.30,364.05 L364.10,364.71 L364.90,365.16 L365.70,366.35 L366.50,366.50 L367.30,367.45 L368.10,368.33 L368.90,368.57 L369.70,369.60 L370.50,370.40 L371.30,370.87 L372.10,371.62 L372.90,371.86 L373.70,372.69 L374.50,373.15 L375.30,374.18 L376.10,374.46 L376.90,375.14 L377.70,376.04 L378.50,376.52 L379.30,377.13 L380.10,377.31 L380.90,377.86 L381.70,378.63 L382.50,378.79 L383.30,379.00 L384.10,379.56 L384.90,379.65 L385.70,380.32 L386.50,381.43 L387.30,381.76 L388.10,381.71 L388.90,381.90 L389.70,382.04 L390.50,382.07 L391.30,382.61 L392.10,383.54 L392.90,383.95 L393.70,383.66 L394.50,384.48 L395.30,384.77 L396.10,384.98 L396.90,385.24 L397.70,385.66 L398.50,385.48 L399.30,386.19 L400.10,385.97 L400.90,386.51 L401.70,387.14 L402.50,387.34 L403.30,387.14 L404.10,388.21 L404.90,388.14 L405.70,388.33 L406.50,387.93 L407.30,388.84 L408.10,388.76 L408.90,389.54 L409.70,389.55 L410.50,390.24 L411.30,390.30 L412.10,390.74 L412.90,390.46 L413.70,391.08 L414.50,391.44 L415.30,391.80 L416.10,391.48 L416.90,392.32 L417.70,392.60 L418.50,392.62 L419.30,393.21 L420.10,393.43 L420.90,393.14 L421.70,393.38 L422.50,393.18 L423.30,394.21 L424.10,394.56 L424.90,394.24 L425.70,394.72 L426.50,394.97 L427.30,395.20 L428.10,394.75 L428.90,395.69 L429.70,395.66 L430.50,395.97 L431.30,395.89 L432.10,396.34 L432.90,396.72 L433.70,396.75 L434.50,397.05 L435.30,396.42 L436.10,396.77 L436.90,397.30 L437.70,397.73 L438.50,397.40 L439.30,398.15 L440.10,398.26 L440.90,397.74 L441.70,398.43 L442.50,398.31 L443.30,398.27 L444.10,398.54 L444.90,398.93 L445.70,398.93 L446.50,399.10 L447.30,399.08 L448.10,399.75 L448.90,399.80 L449.70,400.23 L450.50,400.36 L451.30,400.08 L452.10,401.03 L452.90,400.09 L453.70,400.72 L454.50,400.70 L455.30,401.00 L456.10,400.78 L456.90,401.77 L457.70,401.35 L458.50,401.07 L459.30,401.90 L460.10,401.42 L460.90,402.14 L461.70,402.12 L462.50,402.68 L463.30,403.44 L464.10,403.54 L464.90,403.22 L465.70,403.69 L466.50,403.32 L467.30,402.69 L468.10,402.03 L468.90,402.17 L469.70,401.80 L470.50,402.11 L471.30,402.20 L472.10,402.08 L472.90,402.24 L473.70,403.41 L474.50,402.82 L475.30,403.33 L476.10,404.18 L476.90,404.47 L477.70,404.10 L478.50,404.86 L479.30,405.35 L480.10,404.91 L480.90,405.15 L481.70,405.07 L482.50,405.31 L483.30,406.28 L484.10,405.72 L484.90,406.55 L485.70,406.62 L486.50,406.35 L487.30,406.04 L488.10,406.98 L488.90,406.45 L489.70,406.39 L490.50,406.29 L491.30,407.07 L492.10,406.44 L492.90,406.12" fill="none" stroke="#000" stroke-width="3" stroke-linejoin="round"/>
<defs><linearGradient id="cuvL" x1="0" y1="0" x2="0" y2="1"><stop offset="0" stop-color="#b9b5ab"/><stop offset="0.14" stop-color="#bdb6a6"/><stop offset="0.17" stop-color="#a8905e"/><stop offset="0.25" stop-color="#c8b68e"/><stop offset="0.7" stop-color="#c6ad80"/><stop offset="0.88" stop-color="#cdb78e"/><stop offset="0.9" stop-color="#c9c3b5"/><stop offset="1" stop-color="#d6d0c4"/></linearGradient><linearGradient id="cuvLh" x1="0" y1="0" x2="1" y2="0"><stop offset="0" stop-color="#777" stop-opacity="0.35"/><stop offset="0.15" stop-color="#fff" stop-opacity="0.1"/><stop offset="0.85" stop-color="#fff" stop-opacity="0.1"/><stop offset="1" stop-color="#777" stop-opacity="0.35"/></linearGradient><linearGradient id="cuvR" x1="0" y1="0" x2="0" y2="1"><stop offset="0" stop-color="#c8d2dc"/><stop offset="0.06" stop-color="#aab6c2"/><stop offset="0.08" stop-color="#525c66"/><stop offset="0.2" stop-color="#5a6a7a"/><stop offset="0.28" stop-color="#8fd4f6"/><stop offset="0.4" stop-color="#72bdea"/><stop offset="0.86" stop-color="#5b9fd2"/><stop offset="0.9" stop-color="#cfdce6"/><stop offset="1" stop-color="#e4ecf0"/></linearGradient><linearGradient id="cuvRh" x1="0" y1="0" x2="1" y2="0"><stop offset="0" stop-color="#dde8f0" stop-opacity="0.5"/><stop offset="0.08" stop-color="#fff" stop-opacity="0"/><stop offset="0.92" stop-color="#fff" stop-opacity="0"/><stop offset="1" stop-color="#dde8f0" stop-opacity="0.4"/></linearGradient></defs>
<rect x="417.9" y="274" width="26.5" height="85.6" fill="url(#cuvL)"/>
<rect x="417.9" y="274" width="26.5" height="85.6" fill="url(#cuvLh)"/>
<path d="M421,284 Q431,289 441,284 Q431,286.5 421,284 Z" fill="#f2efe6" stroke="#e8e2d4" stroke-width="1.2"/>
<ellipse cx="431" cy="354" rx="6" ry="1.5" fill="none" stroke="#bfb6a2" stroke-width="0.8"/>
<rect x="449.5" y="273.2" width="28.3" height="86.7" fill="#4b4f54"/>
<rect x="452.8" y="274.6" width="20.8" height="84" fill="url(#cuvR)"/>
<rect x="452.8" y="274.6" width="20.8" height="84" fill="url(#cuvRh)" stroke="#d8e2ea" stroke-width="0.9"/>
<rect x="537.5" y="229.5" width="215" height="177.9" fill="none" stroke="#111" stroke-width="1.4"/>
<line x1="537.50" y1="407.4" x2="537.50" y2="410.4" stroke="#111" stroke-width="1.2"/>
<line x1="558.95" y1="407.4" x2="558.95" y2="409.09999999999997" stroke="#111" stroke-width="1.2"/>
<line x1="580.40" y1="407.4" x2="580.40" y2="410.4" stroke="#111" stroke-width="1.2"/>
<line x1="601.85" y1="407.4" x2="601.85" y2="409.09999999999997" stroke="#111" stroke-width="1.2"/>
<line x1="623.30" y1="407.4" x2="623.30" y2="410.4" stroke="#111" stroke-width="1.2"/>
<line x1="644.75" y1="407.4" x2="644.75" y2="409.09999999999997" stroke="#111" stroke-width="1.2"/>
<line x1="666.20" y1="407.4" x2="666.20" y2="410.4" stroke="#111" stroke-width="1.2"/>
<line x1="687.65" y1="407.4" x2="687.65" y2="409.09999999999997" stroke="#111" stroke-width="1.2"/>
<line x1="709.10" y1="407.4" x2="709.10" y2="410.4" stroke="#111" stroke-width="1.2"/>
<line x1="730.55" y1="407.4" x2="730.55" y2="409.09999999999997" stroke="#111" stroke-width="1.2"/>
<line x1="752.00" y1="407.4" x2="752.00" y2="410.4" stroke="#111" stroke-width="1.2"/>
<text x="537.50" y="421.6" font-size="10.5" font-weight="bold" fill="#000" text-anchor="middle" textLength="5" lengthAdjust="spacingAndGlyphs" >0</text>
<text x="580.40" y="421.6" font-size="10.5" font-weight="bold" fill="#000" text-anchor="middle" textLength="10.5" lengthAdjust="spacingAndGlyphs" >10</text>
<text x="623.30" y="421.6" font-size="10.5" font-weight="bold" fill="#000" text-anchor="middle" textLength="10.5" lengthAdjust="spacingAndGlyphs" >20</text>
<text x="666.20" y="421.6" font-size="10.5" font-weight="bold" fill="#000" text-anchor="middle" textLength="10.5" lengthAdjust="spacingAndGlyphs" >30</text>
<text x="709.10" y="421.6" font-size="10.5" font-weight="bold" fill="#000" text-anchor="middle" textLength="10.5" lengthAdjust="spacingAndGlyphs" >40</text>
<text x="752.00" y="421.6" font-size="10.5" font-weight="bold" fill="#000" text-anchor="middle" textLength="10.5" lengthAdjust="spacingAndGlyphs" >50</text>
<text x="617.3" y="436.1" font-size="13" font-weight="bold" fill="#000" text-anchor="start" textLength="55.2" lengthAdjust="spacingAndGlyphs" >Time (ns)</text>
<text x="0" y="0" font-size="13" font-weight="bold" fill="#000" text-anchor="start" textLength="41.7" lengthAdjust="spacingAndGlyphs" transform="translate(528.6,338) rotate(-90)">Counts</text>
<text x="540.8" y="246.5" font-size="15.5" font-weight="bold" fill="#000" text-anchor="start" textLength="17" lengthAdjust="spacingAndGlyphs" >(f)</text>
<circle cx="629.8" cy="236.2" r="0.9" fill="#222"/>
<text x="646.4" y="240.5" font-size="10" font-weight="bold" fill="#000" text-anchor="start" textLength="103.9" lengthAdjust="spacingAndGlyphs" >Ti<tspan font-size="7.5" dy="2.5">3</tspan><tspan dy="-2.5">C</tspan><tspan font-size="7.5" dy="2.5">2</tspan><tspan dy="-2.5">T</tspan><tspan font-size="7.5" dy="2.5">X</tspan><tspan dy="-2.5"> QD PL Lifetime</tspan></text>
<line x1="615.1" y1="254.5" x2="644.2" y2="254.5" stroke="#E8AE2C" stroke-width="1.6"/>
<text x="649.2" y="258.8" font-size="10" font-weight="bold" fill="#000" text-anchor="start" textLength="29.5" lengthAdjust="spacingAndGlyphs" >Fitting</text>
<circle cx="537.69" cy="393.40" r="1.0" fill="#333"/><circle cx="538.08" cy="394.55" r="1.0" fill="#333"/><circle cx="538.49" cy="394.81" r="1.0" fill="#333"/><circle cx="538.88" cy="395.00" r="1.0" fill="#333"/><circle cx="539.34" cy="395.41" r="1.0" fill="#333"/><circle cx="539.53" cy="394.91" r="1.0" fill="#333"/><circle cx="539.79" cy="395.81" r="1.0" fill="#333"/><circle cx="540.14" cy="394.01" r="1.0" fill="#333"/><circle cx="541.09" cy="396.58" r="1.0" fill="#333"/><circle cx="541.26" cy="395.01" r="1.0" fill="#333"/><circle cx="541.37" cy="396.40" r="1.0" fill="#333"/><circle cx="541.70" cy="395.40" r="1.0" fill="#333"/><circle cx="542.16" cy="395.31" r="1.0" fill="#333"/><circle cx="542.71" cy="395.52" r="1.0" fill="#333"/><circle cx="543.08" cy="395.90" r="1.0" fill="#333"/><circle cx="543.59" cy="394.39" r="1.0" fill="#333"/><circle cx="543.89" cy="394.78" r="1.0" fill="#333"/><circle cx="544.15" cy="394.45" r="1.0" fill="#333"/><circle cx="544.96" cy="397.02" r="1.0" fill="#333"/><circle cx="545.18" cy="395.25" r="1.0" fill="#333"/><circle cx="545.33" cy="395.39" r="1.0" fill="#333"/><circle cx="545.56" cy="396.04" r="1.0" fill="#333"/><circle cx="546.37" cy="393.89" r="1.0" fill="#333"/><circle cx="546.53" cy="396.32" r="1.0" fill="#333"/><circle cx="547.26" cy="395.32" r="1.0" fill="#333"/><circle cx="547.19" cy="395.28" r="1.0" fill="#333"/><circle cx="548.00" cy="392.82" r="1.0" fill="#333"/><circle cx="548.08" cy="395.77" r="1.0" fill="#333"/><circle cx="548.27" cy="394.23" r="1.0" fill="#333"/><circle cx="548.77" cy="394.16" r="1.0" fill="#333"/><circle cx="549.05" cy="394.15" r="1.0" fill="#333"/><circle cx="549.84" cy="397.32" r="1.0" fill="#333"/><circle cx="549.84" cy="395.31" r="1.0" fill="#333"/><circle cx="550.19" cy="395.72" r="1.0" fill="#333"/><circle cx="551.02" cy="395.81" r="1.0" fill="#333"/><circle cx="551.20" cy="396.34" r="1.0" fill="#333"/><circle cx="551.43" cy="395.25" r="1.0" fill="#333"/><circle cx="552.09" cy="394.83" r="1.0" fill="#333"/><circle cx="552.16" cy="394.75" r="1.0" fill="#333"/><circle cx="552.63" cy="395.60" r="1.0" fill="#333"/><circle cx="553.44" cy="395.55" r="1.0" fill="#333"/><circle cx="553.78" cy="394.58" r="1.0" fill="#333"/><circle cx="553.76" cy="393.91" r="1.0" fill="#333"/><circle cx="554.40" cy="396.39" r="1.0" fill="#333"/><circle cx="554.46" cy="395.92" r="1.0" fill="#333"/><circle cx="554.94" cy="395.26" r="1.0" fill="#333"/><circle cx="555.64" cy="391.63" r="1.0" fill="#333"/><circle cx="555.54" cy="386.53" r="1.0" fill="#333"/><circle cx="555.87" cy="378.33" r="1.0" fill="#333"/><circle cx="556.50" cy="369.39" r="1.0" fill="#333"/><circle cx="556.69" cy="357.88" r="1.0" fill="#333"/><circle cx="557.07" cy="347.69" r="1.0" fill="#333"/><circle cx="557.45" cy="334.57" r="1.0" fill="#333"/><circle cx="557.52" cy="320.02" r="1.0" fill="#333"/><circle cx="558.29" cy="305.25" r="1.0" fill="#333"/><circle cx="558.18" cy="288.55" r="1.0" fill="#333"/><circle cx="558.84" cy="272.03" r="1.0" fill="#333"/><circle cx="559.28" cy="246.78" r="1.0" fill="#333"/><circle cx="559.63" cy="248.34" r="1.0" fill="#333"/><circle cx="559.55" cy="253.96" r="1.0" fill="#333"/><circle cx="559.90" cy="265.14" r="1.0" fill="#333"/><circle cx="560.68" cy="264.89" r="1.0" fill="#333"/><circle cx="560.80" cy="272.64" r="1.0" fill="#333"/><circle cx="561.21" cy="268.07" r="1.0" fill="#333"/><circle cx="561.52" cy="277.13" r="1.0" fill="#333"/><circle cx="561.94" cy="279.44" r="1.0" fill="#333"/><circle cx="562.52" cy="288.18" r="1.0" fill="#333"/><circle cx="562.74" cy="283.34" r="1.0" fill="#333"/><circle cx="563.51" cy="291.50" r="1.0" fill="#333"/><circle cx="563.51" cy="295.17" r="1.0" fill="#333"/><circle cx="564.00" cy="299.80" r="1.0" fill="#333"/><circle cx="564.34" cy="301.38" r="1.0" fill="#333"/><circle cx="564.85" cy="305.77" r="1.0" fill="#333"/><circle cx="565.43" cy="308.68" r="1.0" fill="#333"/><circle cx="565.87" cy="305.75" r="1.0" fill="#333"/><circle cx="566.01" cy="306.88" r="1.0" fill="#333"/><circle cx="566.13" cy="314.51" r="1.0" fill="#333"/><circle cx="566.98" cy="316.43" r="1.0" fill="#333"/><circle cx="567.24" cy="319.29" r="1.0" fill="#333"/><circle cx="567.59" cy="320.72" r="1.0" fill="#333"/><circle cx="567.88" cy="322.72" r="1.0" fill="#333"/><circle cx="568.58" cy="322.46" r="1.0" fill="#333"/><circle cx="568.41" cy="322.43" r="1.0" fill="#333"/><circle cx="569.29" cy="327.78" r="1.0" fill="#333"/><circle cx="569.58" cy="329.58" r="1.0" fill="#333"/><circle cx="570.07" cy="328.03" r="1.0" fill="#333"/><circle cx="570.12" cy="332.29" r="1.0" fill="#333"/><circle cx="570.82" cy="330.95" r="1.0" fill="#333"/><circle cx="570.93" cy="339.45" r="1.0" fill="#333"/><circle cx="571.41" cy="334.54" r="1.0" fill="#333"/><circle cx="571.83" cy="338.69" r="1.0" fill="#333"/><circle cx="572.21" cy="345.05" r="1.0" fill="#333"/><circle cx="572.28" cy="339.08" r="1.0" fill="#333"/><circle cx="573.14" cy="339.57" r="1.0" fill="#333"/><circle cx="573.44" cy="343.93" r="1.0" fill="#333"/><circle cx="573.73" cy="350.84" r="1.0" fill="#333"/><circle cx="574.04" cy="350.10" r="1.0" fill="#333"/><circle cx="574.61" cy="349.99" r="1.0" fill="#333"/><circle cx="574.56" cy="349.89" r="1.0" fill="#333"/><circle cx="575.07" cy="351.63" r="1.0" fill="#333"/><circle cx="575.74" cy="351.21" r="1.0" fill="#333"/><circle cx="576.26" cy="355.42" r="1.0" fill="#333"/><circle cx="576.24" cy="358.25" r="1.0" fill="#333"/><circle cx="576.88" cy="357.57" r="1.0" fill="#333"/><circle cx="576.98" cy="360.64" r="1.0" fill="#333"/><circle cx="577.64" cy="363.32" r="1.0" fill="#333"/><circle cx="577.90" cy="361.71" r="1.0" fill="#333"/><circle cx="578.42" cy="360.05" r="1.0" fill="#333"/><circle cx="578.52" cy="358.77" r="1.0" fill="#333"/><circle cx="579.34" cy="364.39" r="1.0" fill="#333"/><circle cx="579.71" cy="361.77" r="1.0" fill="#333"/><circle cx="579.75" cy="366.18" r="1.0" fill="#333"/><circle cx="580.03" cy="361.63" r="1.0" fill="#333"/><circle cx="580.85" cy="366.07" r="1.0" fill="#333"/><circle cx="581.15" cy="368.12" r="1.0" fill="#333"/><circle cx="581.21" cy="366.94" r="1.0" fill="#333"/><circle cx="581.76" cy="367.87" r="1.0" fill="#333"/><circle cx="582.13" cy="369.95" r="1.0" fill="#333"/><circle cx="582.64" cy="367.80" r="1.0" fill="#333"/><circle cx="583.16" cy="370.02" r="1.0" fill="#333"/><circle cx="583.63" cy="369.90" r="1.0" fill="#333"/><circle cx="583.44" cy="371.33" r="1.0" fill="#333"/><circle cx="584.33" cy="374.28" r="1.0" fill="#333"/><circle cx="584.54" cy="372.91" r="1.0" fill="#333"/><circle cx="584.77" cy="372.84" r="1.0" fill="#333"/><circle cx="585.05" cy="372.94" r="1.0" fill="#333"/><circle cx="585.63" cy="376.81" r="1.0" fill="#333"/><circle cx="585.88" cy="374.71" r="1.0" fill="#333"/><circle cx="586.21" cy="376.88" r="1.0" fill="#333"/><circle cx="586.78" cy="375.81" r="1.0" fill="#333"/><circle cx="587.28" cy="373.97" r="1.0" fill="#333"/><circle cx="587.86" cy="373.64" r="1.0" fill="#333"/><circle cx="588.08" cy="376.98" r="1.0" fill="#333"/><circle cx="588.17" cy="378.50" r="1.0" fill="#333"/><circle cx="588.45" cy="374.81" r="1.0" fill="#333"/><circle cx="588.94" cy="378.02" r="1.0" fill="#333"/><circle cx="589.38" cy="376.63" r="1.0" fill="#333"/><circle cx="589.91" cy="380.25" r="1.0" fill="#333"/><circle cx="590.36" cy="378.73" r="1.0" fill="#333"/><circle cx="590.85" cy="377.52" r="1.0" fill="#333"/><circle cx="591.30" cy="382.27" r="1.0" fill="#333"/><circle cx="591.58" cy="381.43" r="1.0" fill="#333"/><circle cx="591.61" cy="378.00" r="1.0" fill="#333"/><circle cx="592.46" cy="380.85" r="1.0" fill="#333"/><circle cx="592.53" cy="377.87" r="1.0" fill="#333"/><circle cx="593.17" cy="379.61" r="1.0" fill="#333"/><circle cx="593.64" cy="379.11" r="1.0" fill="#333"/><circle cx="593.59" cy="381.86" r="1.0" fill="#333"/><circle cx="594.28" cy="382.50" r="1.0" fill="#333"/><circle cx="594.67" cy="380.08" r="1.0" fill="#333"/><circle cx="594.75" cy="385.32" r="1.0" fill="#333"/><circle cx="595.59" cy="380.11" r="1.0" fill="#333"/><circle cx="595.72" cy="382.95" r="1.0" fill="#333"/><circle cx="596.33" cy="381.70" r="1.0" fill="#333"/><circle cx="596.68" cy="382.76" r="1.0" fill="#333"/><circle cx="596.82" cy="383.77" r="1.0" fill="#333"/><circle cx="597.27" cy="383.70" r="1.0" fill="#333"/><circle cx="597.34" cy="382.18" r="1.0" fill="#333"/><circle cx="598.20" cy="386.15" r="1.0" fill="#333"/><circle cx="598.20" cy="385.07" r="1.0" fill="#333"/><circle cx="598.68" cy="384.49" r="1.0" fill="#333"/><circle cx="598.96" cy="383.80" r="1.0" fill="#333"/><circle cx="599.56" cy="384.27" r="1.0" fill="#333"/><circle cx="600.05" cy="382.39" r="1.0" fill="#333"/><circle cx="600.59" cy="381.85" r="1.0" fill="#333"/><circle cx="600.46" cy="385.36" r="1.0" fill="#333"/><circle cx="600.93" cy="384.32" r="1.0" fill="#333"/><circle cx="601.62" cy="385.36" r="1.0" fill="#333"/><circle cx="601.95" cy="383.24" r="1.0" fill="#333"/><circle cx="602.29" cy="385.50" r="1.0" fill="#333"/><circle cx="602.53" cy="384.19" r="1.0" fill="#333"/><circle cx="603.27" cy="387.82" r="1.0" fill="#333"/><circle cx="603.24" cy="388.27" r="1.0" fill="#333"/><circle cx="603.82" cy="383.75" r="1.0" fill="#333"/><circle cx="604.23" cy="387.04" r="1.0" fill="#333"/><circle cx="604.58" cy="388.19" r="1.0" fill="#333"/><circle cx="605.02" cy="390.09" r="1.0" fill="#333"/><circle cx="605.36" cy="387.53" r="1.0" fill="#333"/><circle cx="605.67" cy="387.59" r="1.0" fill="#333"/><circle cx="606.11" cy="385.69" r="1.0" fill="#333"/><circle cx="606.62" cy="388.74" r="1.0" fill="#333"/><circle cx="606.84" cy="388.06" r="1.0" fill="#333"/><circle cx="607.55" cy="388.43" r="1.0" fill="#333"/><circle cx="607.65" cy="387.22" r="1.0" fill="#333"/><circle cx="607.83" cy="385.72" r="1.0" fill="#333"/><circle cx="608.68" cy="388.80" r="1.0" fill="#333"/><circle cx="608.81" cy="387.67" r="1.0" fill="#333"/><circle cx="609.28" cy="388.82" r="1.0" fill="#333"/><circle cx="609.85" cy="389.65" r="1.0" fill="#333"/><circle cx="609.69" cy="389.83" r="1.0" fill="#333"/><circle cx="610.18" cy="388.66" r="1.0" fill="#333"/><circle cx="610.64" cy="390.31" r="1.0" fill="#333"/><circle cx="611.05" cy="388.17" r="1.0" fill="#333"/><circle cx="611.66" cy="388.29" r="1.0" fill="#333"/><circle cx="611.68" cy="387.86" r="1.0" fill="#333"/><circle cx="612.11" cy="388.79" r="1.0" fill="#333"/><circle cx="612.70" cy="387.87" r="1.0" fill="#333"/><circle cx="613.02" cy="389.47" r="1.0" fill="#333"/><circle cx="613.47" cy="389.54" r="1.0" fill="#333"/><circle cx="613.92" cy="389.86" r="1.0" fill="#333"/><circle cx="614.31" cy="387.00" r="1.0" fill="#333"/><circle cx="614.68" cy="388.92" r="1.0" fill="#333"/><circle cx="615.21" cy="389.64" r="1.0" fill="#333"/><circle cx="615.57" cy="391.42" r="1.0" fill="#333"/><circle cx="616.01" cy="389.17" r="1.0" fill="#333"/><circle cx="616.41" cy="390.58" r="1.0" fill="#333"/><circle cx="616.37" cy="392.16" r="1.0" fill="#333"/><circle cx="616.71" cy="389.76" r="1.0" fill="#333"/><circle cx="617.16" cy="389.73" r="1.0" fill="#333"/><circle cx="617.46" cy="389.04" r="1.0" fill="#333"/><circle cx="618.29" cy="388.19" r="1.0" fill="#333"/><circle cx="618.25" cy="391.03" r="1.0" fill="#333"/><circle cx="618.80" cy="390.04" r="1.0" fill="#333"/><circle cx="619.07" cy="389.99" r="1.0" fill="#333"/><circle cx="619.74" cy="392.82" r="1.0" fill="#333"/><circle cx="619.79" cy="388.71" r="1.0" fill="#333"/><circle cx="620.41" cy="390.44" r="1.0" fill="#333"/><circle cx="620.90" cy="389.08" r="1.0" fill="#333"/><circle cx="620.99" cy="390.98" r="1.0" fill="#333"/><circle cx="621.29" cy="390.78" r="1.0" fill="#333"/><circle cx="621.98" cy="389.13" r="1.0" fill="#333"/><circle cx="622.12" cy="390.52" r="1.0" fill="#333"/><circle cx="622.53" cy="391.34" r="1.0" fill="#333"/><circle cx="623.40" cy="392.85" r="1.0" fill="#333"/><circle cx="623.75" cy="391.16" r="1.0" fill="#333"/><circle cx="624.15" cy="391.10" r="1.0" fill="#333"/><circle cx="624.24" cy="391.02" r="1.0" fill="#333"/><circle cx="624.63" cy="389.98" r="1.0" fill="#333"/><circle cx="625.05" cy="389.64" r="1.0" fill="#333"/><circle cx="625.13" cy="391.73" r="1.0" fill="#333"/><circle cx="625.93" cy="391.52" r="1.0" fill="#333"/><circle cx="626.17" cy="390.58" r="1.0" fill="#333"/><circle cx="626.73" cy="390.61" r="1.0" fill="#333"/><circle cx="626.77" cy="391.68" r="1.0" fill="#333"/><circle cx="627.36" cy="393.67" r="1.0" fill="#333"/><circle cx="627.92" cy="391.59" r="1.0" fill="#333"/><circle cx="628.25" cy="392.41" r="1.0" fill="#333"/><circle cx="628.46" cy="390.24" r="1.0" fill="#333"/><circle cx="628.96" cy="388.32" r="1.0" fill="#333"/><circle cx="629.47" cy="391.45" r="1.0" fill="#333"/><circle cx="629.53" cy="393.13" r="1.0" fill="#333"/><circle cx="630.22" cy="390.64" r="1.0" fill="#333"/><circle cx="630.63" cy="389.70" r="1.0" fill="#333"/><circle cx="631.06" cy="393.01" r="1.0" fill="#333"/><circle cx="631.33" cy="391.94" r="1.0" fill="#333"/><circle cx="631.54" cy="389.90" r="1.0" fill="#333"/><circle cx="632.12" cy="392.73" r="1.0" fill="#333"/><circle cx="632.35" cy="392.28" r="1.0" fill="#333"/><circle cx="632.47" cy="390.92" r="1.0" fill="#333"/><circle cx="633.22" cy="393.16" r="1.0" fill="#333"/><circle cx="633.37" cy="393.49" r="1.0" fill="#333"/><circle cx="633.82" cy="391.44" r="1.0" fill="#333"/><circle cx="634.40" cy="390.81" r="1.0" fill="#333"/><circle cx="634.62" cy="391.50" r="1.0" fill="#333"/><circle cx="635.38" cy="391.04" r="1.0" fill="#333"/><circle cx="635.62" cy="390.81" r="1.0" fill="#333"/><circle cx="636.14" cy="393.67" r="1.0" fill="#333"/><circle cx="636.38" cy="392.42" r="1.0" fill="#333"/><circle cx="636.47" cy="391.95" r="1.0" fill="#333"/><circle cx="636.82" cy="392.48" r="1.0" fill="#333"/><circle cx="637.32" cy="392.98" r="1.0" fill="#333"/><circle cx="638.02" cy="392.82" r="1.0" fill="#333"/><circle cx="638.19" cy="389.53" r="1.0" fill="#333"/><circle cx="638.59" cy="392.26" r="1.0" fill="#333"/><circle cx="639.23" cy="391.15" r="1.0" fill="#333"/><circle cx="639.07" cy="390.95" r="1.0" fill="#333"/><circle cx="639.77" cy="392.51" r="1.0" fill="#333"/><circle cx="640.35" cy="392.19" r="1.0" fill="#333"/><circle cx="640.28" cy="391.90" r="1.0" fill="#333"/><circle cx="640.86" cy="392.70" r="1.0" fill="#333"/><circle cx="641.32" cy="395.04" r="1.0" fill="#333"/><circle cx="641.59" cy="393.57" r="1.0" fill="#333"/><circle cx="642.04" cy="391.82" r="1.0" fill="#333"/><circle cx="642.28" cy="392.10" r="1.0" fill="#333"/><circle cx="642.89" cy="391.90" r="1.0" fill="#333"/><circle cx="643.31" cy="392.42" r="1.0" fill="#333"/><circle cx="643.45" cy="393.58" r="1.0" fill="#333"/><circle cx="643.68" cy="392.87" r="1.0" fill="#333"/><circle cx="644.14" cy="392.86" r="1.0" fill="#333"/><circle cx="644.97" cy="391.78" r="1.0" fill="#333"/><circle cx="645.26" cy="395.93" r="1.0" fill="#333"/><circle cx="645.77" cy="393.90" r="1.0" fill="#333"/><circle cx="645.63" cy="393.87" r="1.0" fill="#333"/><circle cx="646.26" cy="392.32" r="1.0" fill="#333"/><circle cx="646.94" cy="393.03" r="1.0" fill="#333"/><circle cx="647.31" cy="394.30" r="1.0" fill="#333"/><circle cx="647.56" cy="390.11" r="1.0" fill="#333"/><circle cx="648.01" cy="393.63" r="1.0" fill="#333"/><circle cx="648.27" cy="394.19" r="1.0" fill="#333"/><circle cx="648.56" cy="394.08" r="1.0" fill="#333"/><circle cx="648.80" cy="394.35" r="1.0" fill="#333"/><circle cx="649.14" cy="393.56" r="1.0" fill="#333"/><circle cx="649.71" cy="392.58" r="1.0" fill="#333"/><circle cx="649.99" cy="392.16" r="1.0" fill="#333"/><circle cx="650.57" cy="391.59" r="1.0" fill="#333"/><circle cx="650.92" cy="394.12" r="1.0" fill="#333"/><circle cx="651.59" cy="394.90" r="1.0" fill="#333"/><circle cx="651.52" cy="392.76" r="1.0" fill="#333"/><circle cx="651.83" cy="394.74" r="1.0" fill="#333"/><circle cx="652.53" cy="392.15" r="1.0" fill="#333"/><circle cx="652.75" cy="393.11" r="1.0" fill="#333"/><circle cx="653.26" cy="394.94" r="1.0" fill="#333"/><circle cx="653.66" cy="392.18" r="1.0" fill="#333"/><circle cx="653.81" cy="392.08" r="1.0" fill="#333"/><circle cx="654.23" cy="395.74" r="1.0" fill="#333"/><circle cx="654.99" cy="393.13" r="1.0" fill="#333"/><circle cx="654.88" cy="394.23" r="1.0" fill="#333"/><circle cx="655.49" cy="393.78" r="1.0" fill="#333"/><circle cx="656.00" cy="394.54" r="1.0" fill="#333"/><circle cx="656.06" cy="394.29" r="1.0" fill="#333"/><circle cx="656.45" cy="392.93" r="1.0" fill="#333"/><circle cx="657.16" cy="392.35" r="1.0" fill="#333"/><circle cx="657.39" cy="392.84" r="1.0" fill="#333"/><circle cx="657.76" cy="393.67" r="1.0" fill="#333"/><circle cx="658.39" cy="393.81" r="1.0" fill="#333"/><circle cx="658.40" cy="393.26" r="1.0" fill="#333"/><circle cx="659.20" cy="392.35" r="1.0" fill="#333"/><circle cx="659.23" cy="392.38" r="1.0" fill="#333"/><circle cx="659.74" cy="393.56" r="1.0" fill="#333"/><circle cx="660.09" cy="395.58" r="1.0" fill="#333"/><circle cx="660.65" cy="394.62" r="1.0" fill="#333"/><circle cx="660.97" cy="393.65" r="1.0" fill="#333"/><circle cx="661.48" cy="394.70" r="1.0" fill="#333"/><circle cx="661.64" cy="393.21" r="1.0" fill="#333"/><circle cx="661.86" cy="394.06" r="1.0" fill="#333"/><circle cx="662.24" cy="393.47" r="1.0" fill="#333"/><circle cx="662.91" cy="392.21" r="1.0" fill="#333"/><circle cx="663.14" cy="393.95" r="1.0" fill="#333"/><circle cx="663.81" cy="394.46" r="1.0" fill="#333"/><circle cx="664.13" cy="394.17" r="1.0" fill="#333"/><circle cx="664.17" cy="393.29" r="1.0" fill="#333"/><circle cx="664.92" cy="395.44" r="1.0" fill="#333"/><circle cx="665.06" cy="394.49" r="1.0" fill="#333"/><circle cx="665.71" cy="394.66" r="1.0" fill="#333"/><circle cx="665.88" cy="395.12" r="1.0" fill="#333"/><circle cx="666.39" cy="395.02" r="1.0" fill="#333"/><circle cx="666.99" cy="396.07" r="1.0" fill="#333"/><circle cx="667.09" cy="393.10" r="1.0" fill="#333"/><circle cx="667.69" cy="393.65" r="1.0" fill="#333"/><circle cx="667.83" cy="394.83" r="1.0" fill="#333"/><circle cx="668.54" cy="394.61" r="1.0" fill="#333"/><circle cx="668.58" cy="393.52" r="1.0" fill="#333"/><circle cx="668.97" cy="393.33" r="1.0" fill="#333"/><circle cx="669.37" cy="394.82" r="1.0" fill="#333"/><circle cx="669.64" cy="392.33" r="1.0" fill="#333"/><circle cx="670.24" cy="393.33" r="1.0" fill="#333"/><circle cx="670.80" cy="393.47" r="1.0" fill="#333"/><circle cx="671.14" cy="393.83" r="1.0" fill="#333"/><circle cx="671.60" cy="394.05" r="1.0" fill="#333"/><circle cx="671.76" cy="394.32" r="1.0" fill="#333"/><circle cx="672.17" cy="391.65" r="1.0" fill="#333"/><circle cx="672.62" cy="393.02" r="1.0" fill="#333"/><circle cx="673.10" cy="395.33" r="1.0" fill="#333"/><circle cx="673.47" cy="394.66" r="1.0" fill="#333"/><circle cx="673.44" cy="395.63" r="1.0" fill="#333"/><circle cx="674.31" cy="395.00" r="1.0" fill="#333"/><circle cx="674.21" cy="393.80" r="1.0" fill="#333"/><circle cx="674.99" cy="393.76" r="1.0" fill="#333"/><circle cx="675.32" cy="394.23" r="1.0" fill="#333"/><circle cx="675.78" cy="394.94" r="1.0" fill="#333"/><circle cx="676.02" cy="394.32" r="1.0" fill="#333"/><circle cx="676.29" cy="393.21" r="1.0" fill="#333"/><circle cx="677.06" cy="393.68" r="1.0" fill="#333"/><circle cx="677.18" cy="393.20" r="1.0" fill="#333"/><circle cx="677.68" cy="393.67" r="1.0" fill="#333"/><circle cx="677.88" cy="392.07" r="1.0" fill="#333"/><circle cx="678.51" cy="393.28" r="1.0" fill="#333"/><circle cx="678.89" cy="392.55" r="1.0" fill="#333"/><circle cx="679.29" cy="396.29" r="1.0" fill="#333"/><circle cx="679.56" cy="392.65" r="1.0" fill="#333"/><circle cx="679.88" cy="393.87" r="1.0" fill="#333"/><circle cx="680.20" cy="392.54" r="1.0" fill="#333"/><circle cx="680.59" cy="395.38" r="1.0" fill="#333"/><circle cx="681.32" cy="395.70" r="1.0" fill="#333"/><circle cx="681.33" cy="394.71" r="1.0" fill="#333"/><circle cx="681.75" cy="394.98" r="1.0" fill="#333"/><circle cx="682.06" cy="394.74" r="1.0" fill="#333"/><circle cx="682.45" cy="394.33" r="1.0" fill="#333"/><circle cx="682.72" cy="393.34" r="1.0" fill="#333"/><circle cx="683.15" cy="392.99" r="1.0" fill="#333"/><circle cx="683.46" cy="393.11" r="1.0" fill="#333"/><circle cx="684.36" cy="394.78" r="1.0" fill="#333"/><circle cx="684.22" cy="394.95" r="1.0" fill="#333"/><circle cx="684.71" cy="394.86" r="1.0" fill="#333"/><circle cx="685.11" cy="394.18" r="1.0" fill="#333"/><circle cx="685.49" cy="393.12" r="1.0" fill="#333"/><circle cx="685.85" cy="394.35" r="1.0" fill="#333"/><circle cx="686.58" cy="395.10" r="1.0" fill="#333"/><circle cx="686.70" cy="392.69" r="1.0" fill="#333"/><circle cx="687.19" cy="393.93" r="1.0" fill="#333"/><circle cx="687.44" cy="396.23" r="1.0" fill="#333"/><circle cx="687.88" cy="393.04" r="1.0" fill="#333"/><circle cx="688.39" cy="395.65" r="1.0" fill="#333"/><circle cx="688.58" cy="394.22" r="1.0" fill="#333"/><circle cx="688.86" cy="396.28" r="1.0" fill="#333"/><circle cx="689.45" cy="393.95" r="1.0" fill="#333"/><circle cx="689.92" cy="393.74" r="1.0" fill="#333"/><circle cx="690.58" cy="394.48" r="1.0" fill="#333"/><circle cx="690.77" cy="394.58" r="1.0" fill="#333"/><circle cx="691.04" cy="394.73" r="1.0" fill="#333"/><circle cx="691.37" cy="395.05" r="1.0" fill="#333"/><circle cx="691.90" cy="393.04" r="1.0" fill="#333"/><circle cx="692.01" cy="395.09" r="1.0" fill="#333"/><circle cx="692.46" cy="395.35" r="1.0" fill="#333"/><circle cx="693.21" cy="393.16" r="1.0" fill="#333"/><circle cx="693.67" cy="394.47" r="1.0" fill="#333"/><circle cx="693.62" cy="394.05" r="1.0" fill="#333"/><circle cx="694.31" cy="394.50" r="1.0" fill="#333"/><circle cx="694.24" cy="395.49" r="1.0" fill="#333"/><circle cx="695.11" cy="392.87" r="1.0" fill="#333"/><circle cx="695.06" cy="394.45" r="1.0" fill="#333"/><circle cx="695.45" cy="396.26" r="1.0" fill="#333"/><circle cx="696.07" cy="392.17" r="1.0" fill="#333"/><circle cx="696.52" cy="395.17" r="1.0" fill="#333"/><circle cx="697.07" cy="394.08" r="1.0" fill="#333"/><circle cx="697.19" cy="396.38" r="1.0" fill="#333"/><circle cx="697.87" cy="396.29" r="1.0" fill="#333"/><circle cx="697.84" cy="395.72" r="1.0" fill="#333"/><circle cx="698.42" cy="394.11" r="1.0" fill="#333"/><circle cx="698.98" cy="394.61" r="1.0" fill="#333"/><circle cx="699.06" cy="394.56" r="1.0" fill="#333"/><circle cx="699.44" cy="395.09" r="1.0" fill="#333"/><circle cx="699.92" cy="394.52" r="1.0" fill="#333"/><circle cx="700.44" cy="393.79" r="1.0" fill="#333"/><circle cx="700.48" cy="393.84" r="1.0" fill="#333"/><circle cx="701.38" cy="395.44" r="1.0" fill="#333"/><circle cx="701.68" cy="394.66" r="1.0" fill="#333"/><circle cx="701.80" cy="394.62" r="1.0" fill="#333"/><circle cx="702.38" cy="394.86" r="1.0" fill="#333"/><circle cx="702.62" cy="396.07" r="1.0" fill="#333"/><circle cx="702.74" cy="396.59" r="1.0" fill="#333"/><circle cx="703.24" cy="394.68" r="1.0" fill="#333"/><circle cx="703.87" cy="394.53" r="1.0" fill="#333"/><circle cx="704.21" cy="395.74" r="1.0" fill="#333"/><circle cx="704.45" cy="394.26" r="1.0" fill="#333"/><circle cx="705.06" cy="395.66" r="1.0" fill="#333"/><circle cx="705.20" cy="395.31" r="1.0" fill="#333"/><circle cx="705.63" cy="396.37" r="1.0" fill="#333"/><circle cx="706.39" cy="393.31" r="1.0" fill="#333"/><circle cx="706.40" cy="394.19" r="1.0" fill="#333"/><circle cx="707.09" cy="395.29" r="1.0" fill="#333"/><circle cx="707.03" cy="395.13" r="1.0" fill="#333"/><circle cx="707.77" cy="394.66" r="1.0" fill="#333"/><circle cx="707.99" cy="394.22" r="1.0" fill="#333"/><circle cx="708.64" cy="394.47" r="1.0" fill="#333"/><circle cx="708.66" cy="394.60" r="1.0" fill="#333"/><circle cx="709.00" cy="395.58" r="1.0" fill="#333"/><circle cx="709.34" cy="395.58" r="1.0" fill="#333"/><circle cx="710.23" cy="393.77" r="1.0" fill="#333"/><circle cx="710.45" cy="395.40" r="1.0" fill="#333"/><circle cx="710.91" cy="395.30" r="1.0" fill="#333"/><circle cx="711.04" cy="393.97" r="1.0" fill="#333"/><circle cx="711.47" cy="395.89" r="1.0" fill="#333"/><circle cx="712.03" cy="394.98" r="1.0" fill="#333"/><circle cx="712.59" cy="395.25" r="1.0" fill="#333"/><circle cx="712.75" cy="393.44" r="1.0" fill="#333"/><circle cx="712.78" cy="394.44" r="1.0" fill="#333"/><circle cx="713.54" cy="395.70" r="1.0" fill="#333"/><circle cx="713.60" cy="394.03" r="1.0" fill="#333"/><circle cx="714.40" cy="395.74" r="1.0" fill="#333"/><circle cx="714.81" cy="394.45" r="1.0" fill="#333"/><circle cx="715.16" cy="394.53" r="1.0" fill="#333"/><circle cx="715.63" cy="394.01" r="1.0" fill="#333"/><circle cx="715.77" cy="394.64" r="1.0" fill="#333"/><circle cx="715.94" cy="394.24" r="1.0" fill="#333"/><circle cx="716.55" cy="392.03" r="1.0" fill="#333"/><circle cx="717.06" cy="395.27" r="1.0" fill="#333"/><circle cx="717.58" cy="394.36" r="1.0" fill="#333"/><circle cx="717.78" cy="395.07" r="1.0" fill="#333"/><circle cx="717.93" cy="395.34" r="1.0" fill="#333"/><circle cx="718.52" cy="394.65" r="1.0" fill="#333"/><circle cx="719.12" cy="394.09" r="1.0" fill="#333"/><circle cx="719.16" cy="394.44" r="1.0" fill="#333"/><circle cx="719.92" cy="395.07" r="1.0" fill="#333"/><circle cx="719.80" cy="396.00" r="1.0" fill="#333"/><circle cx="720.44" cy="394.24" r="1.0" fill="#333"/><circle cx="720.83" cy="394.76" r="1.0" fill="#333"/><circle cx="721.47" cy="397.17" r="1.0" fill="#333"/><circle cx="721.75" cy="394.56" r="1.0" fill="#333"/><circle cx="722.14" cy="394.67" r="1.0" fill="#333"/><circle cx="722.21" cy="395.58" r="1.0" fill="#333"/><circle cx="722.76" cy="394.53" r="1.0" fill="#333"/><circle cx="723.31" cy="395.48" r="1.0" fill="#333"/><circle cx="723.24" cy="396.16" r="1.0" fill="#333"/><circle cx="723.60" cy="396.26" r="1.0" fill="#333"/><circle cx="724.53" cy="397.69" r="1.0" fill="#333"/><circle cx="724.75" cy="394.46" r="1.0" fill="#333"/><circle cx="725.18" cy="396.41" r="1.0" fill="#333"/><circle cx="725.35" cy="393.48" r="1.0" fill="#333"/><circle cx="725.52" cy="394.01" r="1.0" fill="#333"/><circle cx="726.02" cy="394.46" r="1.0" fill="#333"/><circle cx="726.51" cy="395.12" r="1.0" fill="#333"/><circle cx="727.01" cy="395.58" r="1.0" fill="#333"/><circle cx="727.21" cy="396.10" r="1.0" fill="#333"/><circle cx="727.78" cy="394.31" r="1.0" fill="#333"/><circle cx="727.85" cy="396.28" r="1.0" fill="#333"/><circle cx="728.61" cy="396.59" r="1.0" fill="#333"/><circle cx="728.96" cy="397.04" r="1.0" fill="#333"/><circle cx="729.27" cy="393.83" r="1.0" fill="#333"/><circle cx="729.78" cy="395.78" r="1.0" fill="#333"/><circle cx="730.21" cy="395.05" r="1.0" fill="#333"/><circle cx="730.74" cy="393.88" r="1.0" fill="#333"/><circle cx="731.03" cy="395.67" r="1.0" fill="#333"/><circle cx="731.18" cy="394.23" r="1.0" fill="#333"/><circle cx="731.64" cy="396.07" r="1.0" fill="#333"/><circle cx="732.00" cy="394.36" r="1.0" fill="#333"/><circle cx="732.33" cy="395.78" r="1.0" fill="#333"/><circle cx="732.49" cy="394.55" r="1.0" fill="#333"/><circle cx="733.28" cy="396.38" r="1.0" fill="#333"/><circle cx="733.59" cy="394.10" r="1.0" fill="#333"/><circle cx="734.07" cy="394.61" r="1.0" fill="#333"/><circle cx="734.05" cy="396.34" r="1.0" fill="#333"/><circle cx="734.46" cy="393.94" r="1.0" fill="#333"/><circle cx="735.01" cy="395.46" r="1.0" fill="#333"/><circle cx="735.19" cy="394.65" r="1.0" fill="#333"/><circle cx="735.69" cy="393.92" r="1.0" fill="#333"/><circle cx="736.12" cy="394.49" r="1.0" fill="#333"/><circle cx="736.36" cy="395.53" r="1.0" fill="#333"/><circle cx="737.25" cy="396.54" r="1.0" fill="#333"/><circle cx="737.61" cy="394.77" r="1.0" fill="#333"/><circle cx="737.73" cy="395.33" r="1.0" fill="#333"/><circle cx="738.31" cy="394.42" r="1.0" fill="#333"/><circle cx="738.59" cy="395.46" r="1.0" fill="#333"/><circle cx="739.11" cy="394.83" r="1.0" fill="#333"/><circle cx="739.10" cy="392.69" r="1.0" fill="#333"/><circle cx="739.41" cy="394.52" r="1.0" fill="#333"/><circle cx="739.94" cy="394.82" r="1.0" fill="#333"/><circle cx="740.22" cy="395.95" r="1.0" fill="#333"/><circle cx="741.10" cy="395.51" r="1.0" fill="#333"/><circle cx="741.17" cy="394.17" r="1.0" fill="#333"/><circle cx="741.69" cy="395.35" r="1.0" fill="#333"/><circle cx="742.26" cy="395.18" r="1.0" fill="#333"/><circle cx="742.30" cy="392.76" r="1.0" fill="#333"/><circle cx="743.08" cy="395.13" r="1.0" fill="#333"/><circle cx="743.17" cy="395.34" r="1.0" fill="#333"/><circle cx="743.82" cy="395.92" r="1.0" fill="#333"/><circle cx="744.19" cy="395.76" r="1.0" fill="#333"/><circle cx="744.25" cy="396.92" r="1.0" fill="#333"/><circle cx="744.71" cy="396.09" r="1.0" fill="#333"/><circle cx="745.41" cy="396.95" r="1.0" fill="#333"/><circle cx="745.32" cy="394.68" r="1.0" fill="#333"/><circle cx="746.11" cy="394.64" r="1.0" fill="#333"/><circle cx="746.00" cy="396.40" r="1.0" fill="#333"/><circle cx="746.55" cy="396.13" r="1.0" fill="#333"/><circle cx="747.29" cy="396.21" r="1.0" fill="#333"/><circle cx="747.21" cy="393.97" r="1.0" fill="#333"/><circle cx="747.93" cy="396.14" r="1.0" fill="#333"/><circle cx="747.95" cy="394.72" r="1.0" fill="#333"/><circle cx="748.42" cy="394.58" r="1.0" fill="#333"/><circle cx="748.79" cy="396.62" r="1.0" fill="#333"/><circle cx="749.17" cy="395.28" r="1.0" fill="#333"/><circle cx="749.92" cy="396.62" r="1.0" fill="#333"/><circle cx="750.06" cy="394.05" r="1.0" fill="#333"/><circle cx="750.57" cy="393.37" r="1.0" fill="#333"/><circle cx="750.74" cy="394.42" r="1.0" fill="#333"/><circle cx="751.39" cy="397.33" r="1.0" fill="#333"/><circle cx="751.54" cy="394.87" r="1.0" fill="#333"/>
<path d="M558.95,247.30 L559.38,252.48 L559.81,257.46 L560.24,262.25 L560.67,266.87 L561.10,271.30 L561.52,275.57 L561.95,279.68 L562.38,283.64 L562.81,287.44 L563.24,291.11 L563.67,294.63 L564.10,298.03 L564.53,301.30 L564.96,304.44 L565.38,307.47 L565.81,310.38 L566.24,313.19 L566.67,315.89 L567.10,318.49 L567.53,321.00 L567.96,323.41 L568.39,325.73 L568.82,327.97 L569.25,330.13 L569.67,332.21 L570.10,334.21 L570.53,336.13 L570.96,337.99 L571.39,339.78 L571.82,341.50 L572.25,343.16 L572.68,344.77 L573.11,346.31 L573.54,347.80 L573.97,349.23 L574.39,350.61 L574.82,351.95 L575.25,353.23 L575.68,354.47 L576.11,355.67 L576.54,356.82 L576.97,357.93 L577.40,359.01 L577.83,360.04 L578.25,361.04 L578.68,362.00 L579.11,362.94 L579.54,363.83 L579.97,364.70 L580.40,365.54 L580.83,366.35 L581.26,367.13 L581.69,367.88 L582.12,368.61 L582.54,369.31 L582.97,369.99 L583.40,370.65 L583.83,371.28 L584.26,371.90 L584.69,372.49 L585.12,373.06 L585.55,373.62 L585.98,374.15 L586.41,374.67 L586.84,375.17 L587.26,375.66 L587.69,376.13 L588.12,376.58 L588.55,377.02 L588.98,377.45 L589.41,377.86 L589.84,378.26 L590.27,378.65 L590.70,379.03 L591.12,379.39 L591.55,379.74 L591.98,380.08 L592.41,380.41 L592.84,380.73 L593.27,381.05 L593.70,381.35 L594.13,381.64 L594.56,381.92 L594.99,382.20 L595.41,382.47 L595.84,382.73 L596.27,382.98 L596.70,383.23 L597.13,383.46 L597.56,383.70 L597.99,383.92 L598.42,384.14 L598.85,384.35 L599.28,384.56 L599.71,384.76 L600.13,384.96 L600.56,385.15 L600.99,385.33 L601.42,385.51 L601.85,385.69 L602.28,385.86 L602.71,386.03 L603.14,386.19 L603.57,386.35 L604.00,386.50 L604.42,386.65 L604.85,386.80 L605.28,386.94 L605.71,387.08 L606.14,387.22 L606.57,387.35 L607.00,387.48 L607.43,387.60 L607.86,387.73 L608.28,387.85 L608.71,387.97 L609.14,388.08 L609.57,388.20 L610.00,388.31 L610.43,388.41 L610.86,388.52 L611.29,388.62 L611.72,388.72 L612.15,388.82 L612.58,388.92 L613.00,389.01 L613.43,389.10 L613.86,389.19 L614.29,389.28 L614.72,389.37 L615.15,389.45 L615.58,389.54 L616.01,389.62 L616.44,389.70 L616.87,389.78 L617.29,389.86 L617.72,389.93 L618.15,390.00 L618.58,390.08 L619.01,390.15 L619.44,390.22 L619.87,390.29 L620.30,390.36 L620.73,390.42 L621.15,390.49 L621.58,390.55 L622.01,390.61 L622.44,390.67 L622.87,390.74 L623.30,390.80 L623.73,390.85 L624.16,390.91 L624.59,390.97 L625.02,391.02 L625.45,391.08 L625.87,391.13 L626.30,391.19 L626.73,391.24 L627.16,391.29 L627.59,391.34 L628.02,391.39 L628.45,391.44 L628.88,391.49 L629.31,391.53 L629.74,391.58 L630.16,391.63 L630.59,391.67 L631.02,391.72 L631.45,391.76 L631.88,391.80 L632.31,391.84 L632.74,391.89 L633.17,391.93 L633.60,391.97 L634.02,392.01 L634.45,392.05 L634.88,392.09 L635.31,392.13 L635.74,392.16 L636.17,392.20 L636.60,392.24 L637.03,392.27 L637.46,392.31 L637.89,392.35 L638.32,392.38 L638.74,392.42 L639.17,392.45 L639.60,392.48 L640.03,392.52 L640.46,392.55 L640.89,392.58 L641.32,392.61 L641.75,392.64 L642.18,392.67 L642.61,392.71 L643.03,392.74 L643.46,392.77 L643.89,392.79 L644.32,392.82 L644.75,392.85 L645.18,392.88 L645.61,392.91 L646.04,392.94 L646.47,392.96 L646.89,392.99 L647.32,393.02 L647.75,393.04 L648.18,393.07 L648.61,393.09 L649.04,393.12 L649.47,393.14 L649.90,393.17 L650.33,393.19 L650.76,393.22 L651.18,393.24 L651.61,393.26 L652.04,393.29 L652.47,393.31 L652.90,393.33 L653.33,393.35 L653.76,393.38 L654.19,393.40 L654.62,393.42 L655.05,393.44 L655.48,393.46 L655.90,393.48 L656.33,393.50 L656.76,393.52 L657.19,393.54 L657.62,393.56 L658.05,393.58 L658.48,393.60 L658.91,393.62 L659.34,393.64 L659.76,393.66 L660.19,393.68 L660.62,393.70 L661.05,393.71 L661.48,393.73 L661.91,393.75 L662.34,393.77 L662.77,393.78 L663.20,393.80 L663.63,393.82 L664.06,393.83 L664.48,393.85 L664.91,393.87 L665.34,393.88 L665.77,393.90 L666.20,393.91 L666.63,393.93 L667.06,393.94 L667.49,393.96 L667.92,393.97 L668.35,393.99 L668.77,394.00 L669.20,394.02 L669.63,394.03 L670.06,394.05 L670.49,394.06 L670.92,394.07 L671.35,394.09 L671.78,394.10 L672.21,394.12 L672.63,394.13 L673.06,394.14 L673.49,394.15 L673.92,394.17 L674.35,394.18 L674.78,394.19 L675.21,394.20 L675.64,394.22 L676.07,394.23 L676.50,394.24 L676.92,394.25 L677.35,394.26 L677.78,394.28 L678.21,394.29 L678.64,394.30 L679.07,394.31 L679.50,394.32 L679.93,394.33 L680.36,394.34 L680.79,394.35 L681.22,394.36 L681.64,394.37 L682.07,394.38 L682.50,394.39 L682.93,394.40 L683.36,394.41 L683.79,394.42 L684.22,394.43 L684.65,394.44 L685.08,394.45 L685.50,394.46 L685.93,394.47 L686.36,394.48 L686.79,394.49 L687.22,394.50 L687.65,394.51 L688.08,394.52 L688.51,394.52 L688.94,394.53 L689.37,394.54 L689.79,394.55 L690.22,394.56 L690.65,394.57 L691.08,394.57 L691.51,394.58 L691.94,394.59 L692.37,394.60 L692.80,394.61 L693.23,394.61 L693.66,394.62 L694.09,394.63 L694.51,394.64 L694.94,394.64 L695.37,394.65 L695.80,394.66 L696.23,394.67 L696.66,394.67 L697.09,394.68 L697.52,394.69 L697.95,394.69 L698.38,394.70 L698.80,394.71 L699.23,394.71 L699.66,394.72 L700.09,394.73 L700.52,394.73 L700.95,394.74 L701.38,394.74 L701.81,394.75 L702.24,394.76 L702.66,394.76 L703.09,394.77 L703.52,394.77 L703.95,394.78 L704.38,394.79 L704.81,394.79 L705.24,394.80 L705.67,394.80 L706.10,394.81 L706.53,394.81 L706.96,394.82 L707.38,394.82 L707.81,394.83 L708.24,394.84 L708.67,394.84 L709.10,394.85 L709.53,394.85 L709.96,394.86 L710.39,394.86 L710.82,394.87 L711.25,394.87 L711.67,394.87 L712.10,394.88 L712.53,394.88 L712.96,394.89 L713.39,394.89 L713.82,394.90 L714.25,394.90 L714.68,394.91 L715.11,394.91 L715.53,394.92 L715.96,394.92 L716.39,394.92 L716.82,394.93 L717.25,394.93 L717.68,394.94 L718.11,394.94 L718.54,394.94 L718.97,394.95 L719.40,394.95 L719.83,394.96 L720.25,394.96 L720.68,394.96 L721.11,394.97 L721.54,394.97 L721.97,394.97 L722.40,394.98 L722.83,394.98 L723.26,394.99 L723.69,394.99 L724.12,394.99 L724.54,395.00 L724.97,395.00 L725.40,395.00 L725.83,395.01 L726.26,395.01 L726.69,395.01 L727.12,395.02 L727.55,395.02 L727.98,395.02 L728.40,395.02 L728.83,395.03 L729.26,395.03 L729.69,395.03 L730.12,395.04 L730.55,395.04 L730.98,395.04 L731.41,395.05 L731.84,395.05 L732.27,395.05 L732.69,395.05 L733.12,395.06 L733.55,395.06 L733.98,395.06 L734.41,395.06 L734.84,395.07 L735.27,395.07 L735.70,395.07 L736.13,395.07 L736.56,395.08 L736.99,395.08 L737.41,395.08 L737.84,395.08 L738.27,395.09 L738.70,395.09 L739.13,395.09 L739.56,395.09 L739.99,395.10 L740.42,395.10 L740.85,395.10 L741.27,395.10 L741.70,395.10 L742.13,395.11 L742.56,395.11 L742.99,395.11 L743.42,395.11 L743.85,395.12 L744.28,395.12 L744.71,395.12 L745.14,395.12 L745.57,395.12 L745.99,395.13 L746.42,395.13 L746.85,395.13 L747.28,395.13 L747.71,395.13 L748.14,395.13 L748.57,395.14 L749.00,395.14 L749.43,395.14 L749.86,395.14 L750.28,395.14 L750.71,395.15 L751.14,395.15 L751.57,395.15 L752.00,395.15" fill="none" stroke="#E9A925" stroke-width="1.9"/>
</svg></body></html>
